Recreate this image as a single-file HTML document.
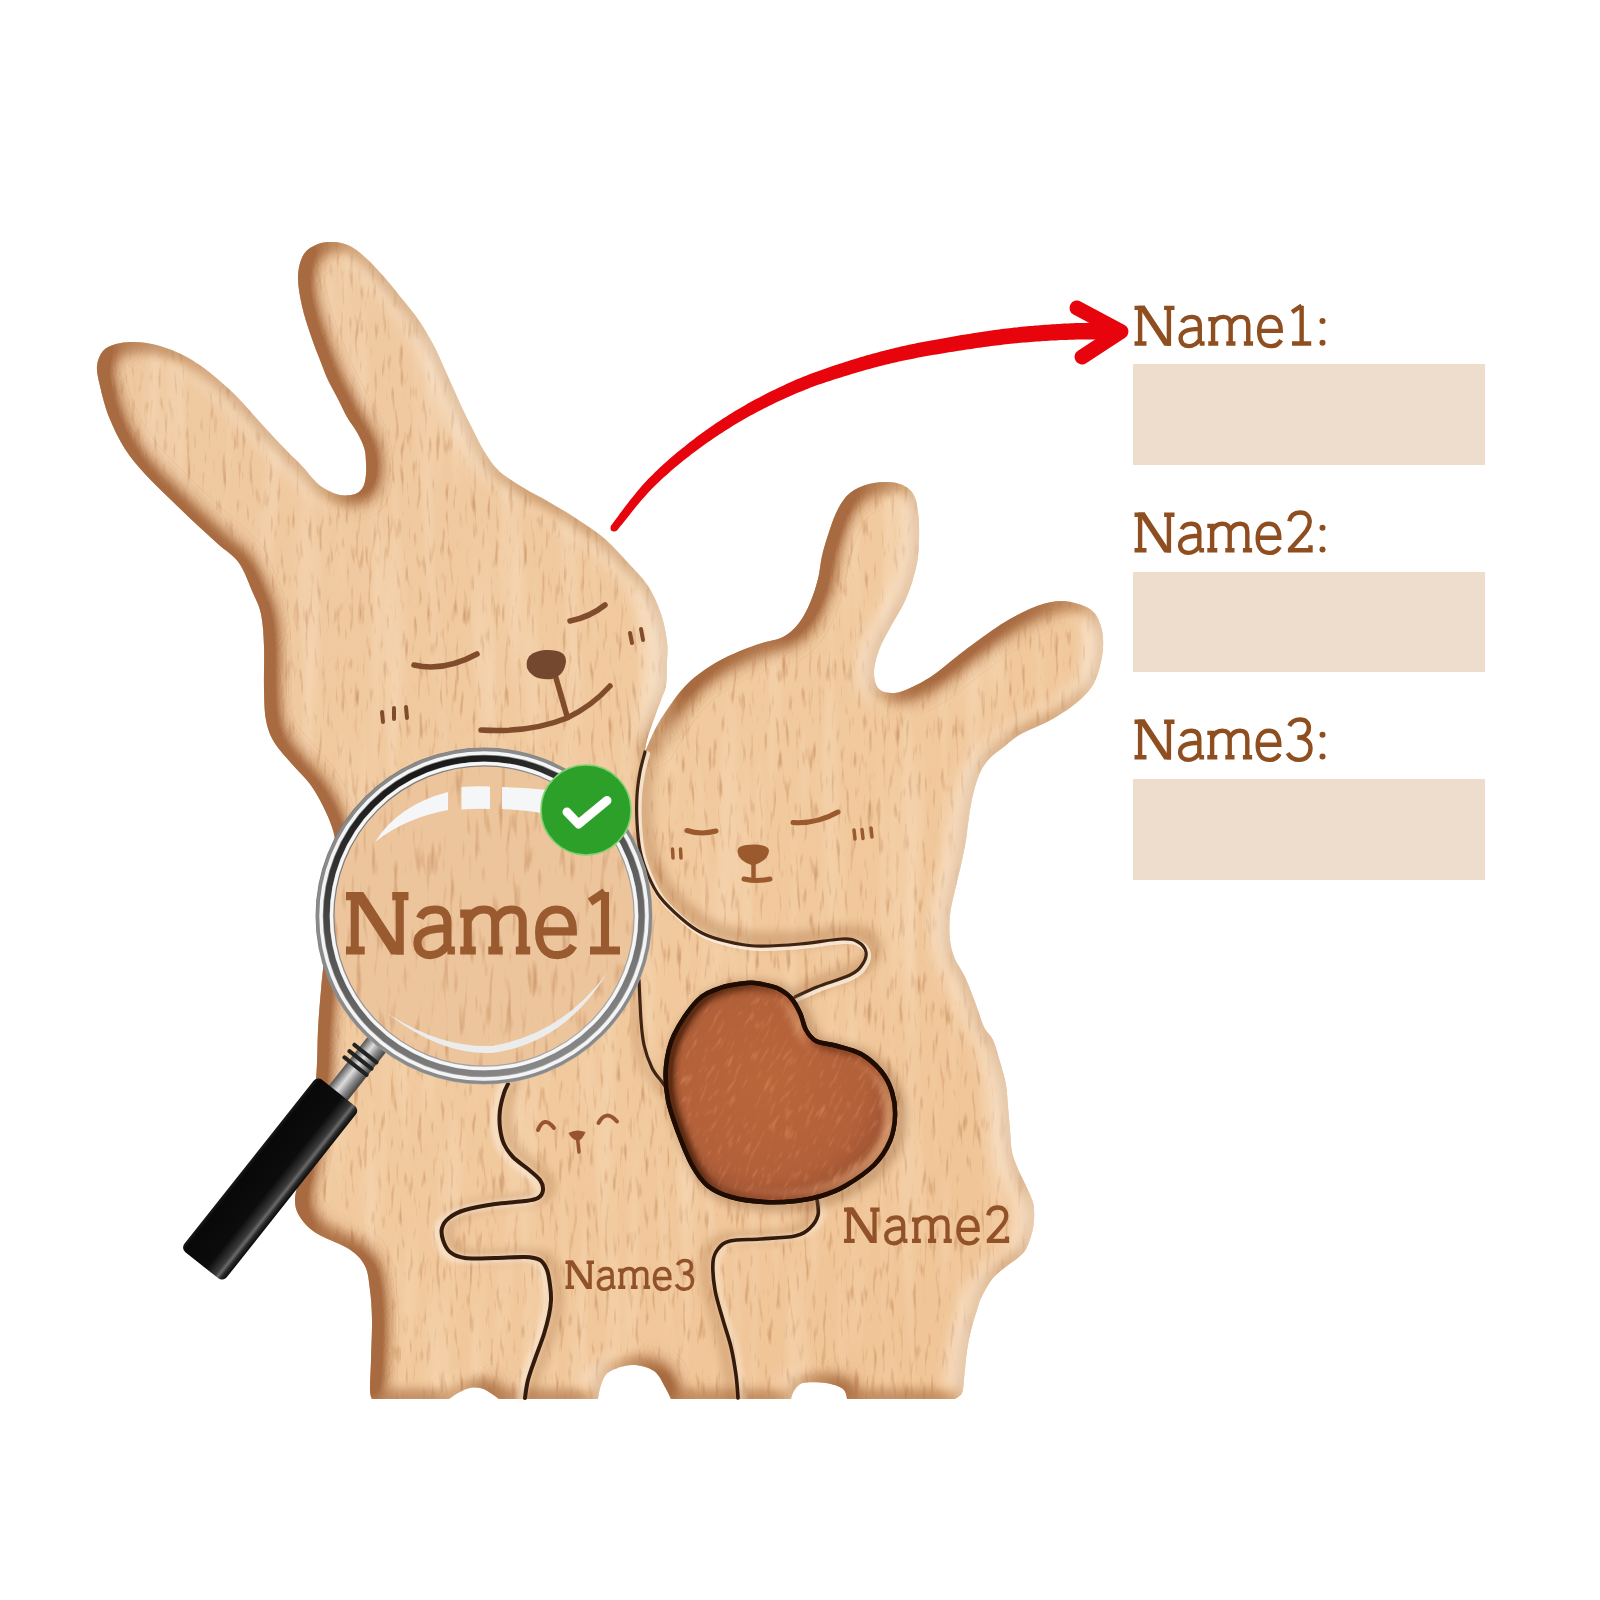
<!DOCTYPE html>
<html><head><meta charset="utf-8"><style>html,body{margin:0;padding:0;background:#fff;overflow:hidden;font-family:"Liberation Sans",sans-serif}svg{display:block}</style></head>
<body>
<svg width="1600" height="1600" viewBox="0 0 1600 1600">
<defs>
  <clipPath id="clipOuter"><path d="M97 366C97.5 360.2 99.8 354.7 103 351C106.2 347.3 110.7 345.5 116 344C121.3 342.5 127.7 341.7 135 342C142.3 342.3 150.5 343 160 346C169.5 349 180.3 352.7 192 360C203.7 367.3 217.5 378.3 230 390C242.5 401.7 257.5 419.8 267 430C276.5 440.2 281.2 445 287 451C292.8 457 297 460.7 302 466C307 471.3 312.5 478.8 317 483C321.5 487.2 325.2 489 329 491C332.8 493 336.3 494.3 340 495C343.7 495.7 347.8 495.5 351 495C354.2 494.5 356.8 493.7 359 492C361.2 490.3 362.8 488 364 485C365.2 482 365.7 477.7 366 474C366.3 470.3 366.2 466.8 366 463C365.8 459.2 365.8 454.8 365 451C364.2 447.2 362.7 443.7 361 440C359.3 436.3 357.3 432.8 355 429C352.7 425.2 349.8 422 347 417C344.2 412 341.2 405.2 338 399C334.8 392.8 331 386.5 328 380C325 373.5 322.8 367.3 320 360C317.2 352.7 314 345 311 336C308 327 304.2 316 302 306C299.8 296 297.7 284.7 298 276C298.3 267.3 300.7 259.3 304 254C307.3 248.7 313.2 246 318 244C322.8 242 327.7 241.7 333 242C338.3 242.3 344.3 243.2 350 246C355.7 248.8 361.2 253.7 367 259C372.8 264.3 379 271.2 385 278C391 284.8 398 293.8 403 300C408 306.2 411.3 310 415 315C418.7 320 421.5 324.2 425 330C428.5 335.8 432.7 343.3 436 350C439.3 356.7 442 363.3 445 370C448 376.7 451 383.3 454 390C457 396.7 459.8 403.3 463 410C466.2 416.7 469.5 423.2 473 430C476.5 436.8 479.7 444.2 484 451C488.3 457.8 492.3 464.8 499 471C505.7 477.2 515.7 482.8 524 488C532.3 493.2 540.2 496.8 549 502C557.8 507.2 567.7 512.8 577 519C586.3 525.2 596.3 531.5 605 539C613.7 546.5 621.8 556.2 629 564C636.2 571.8 642.7 577.7 648 586C653.3 594.3 657.8 604.7 661 614C664.2 623.3 666 634 667 642C668 650 667.2 654.8 667 662C666.8 669.2 667 678.7 666 685C665 691.3 663 694.3 661 700C659 705.7 656.3 712.3 654 719C651.7 725.7 648.5 734.5 647 740C645.5 745.5 645 752 645 752C645 752 648.7 743 651 738C653.3 733 656 727.2 659 722C662 716.8 665.5 712 669 707C672.5 702 675.7 697 680 692C684.3 687 688.8 682 695 677C701.2 672 709.5 666.3 717 662C724.5 657.7 732.5 654.2 740 651C747.5 647.8 754.8 645.3 762 643C769.2 640.7 776.8 640.3 783 637C789.2 633.7 794.5 628.7 799 623C803.5 617.3 806.8 610.3 810 603C813.2 595.7 816 586.8 818 579C820 571.2 820.2 563.8 822 556C823.8 548.2 826.3 539.8 829 532C831.7 524.2 834.5 515.5 838 509C841.5 502.5 844.8 497.2 850 493C855.2 488.8 862.7 485.8 869 484C875.3 482.2 882.8 482 888 482C893.2 482 896.3 482.7 900 484C903.7 485.3 907.3 487.2 910 490C912.7 492.8 914.5 495.2 916 501C917.5 506.8 918.7 515.8 919 525C919.3 534.2 919 547 918 556C917 565 915.3 571.2 913 579C910.7 586.8 907.7 595.2 904 603C900.3 610.8 895.2 618.2 891 626C886.8 633.8 881.8 642.2 879 650C876.2 657.8 874 666.5 874 673C874 679.5 875.8 685.7 879 689C882.2 692.3 888.2 693 893 693C897.8 693 901.5 691.8 908 689C914.5 686.2 924.2 681.2 932 676C939.8 670.8 948.3 663.2 955 658C961.7 652.8 963.7 651 972 645C980.3 639 994.2 628.5 1005 622C1015.8 615.5 1027.5 609.5 1037 606C1046.5 602.5 1054.2 601 1062 601C1069.8 601 1078.3 603.7 1084 606C1089.7 608.3 1093 610.8 1096 615C1099 619.2 1100.8 625.5 1102 631C1103.2 636.5 1103.3 642.2 1103 648C1102.7 653.8 1101.5 660.2 1100 666C1098.5 671.8 1096.7 678 1094 683C1091.3 688 1088.5 691.5 1084 696C1079.5 700.5 1073.5 705.5 1067 710C1060.5 714.5 1052.7 719 1045 723C1037.3 727 1027.7 730.2 1021 734C1014.3 737.8 1010.3 741.8 1005 746C999.7 750.2 993.3 754.2 989 759C984.7 763.8 981.8 768.3 979 775C976.2 781.7 973.8 790.8 972 799C970.2 807.2 969 817.2 968 824C967 830.8 967.2 833.2 966 840C964.8 846.8 962.8 856.7 961 865C959.2 873.3 956.8 881.7 955 890C953.2 898.3 950.8 906.7 950 915C949.2 923.3 949.2 932.7 950 940C950.8 947.3 952.5 952.8 955 959C957.5 965.2 961.7 969.8 965 977C968.3 984.2 971.8 993.7 975 1002C978.2 1010.3 981 1020.7 984 1027C987 1033.3 990.3 1034.2 993 1040C995.7 1045.8 997.8 1054.5 1000 1062C1002.2 1069.5 1004.7 1077.5 1006 1085C1007.3 1092.5 1007.3 1099.5 1008 1107C1008.7 1114.5 1009.3 1122.5 1010 1130C1010.7 1137.5 1010.7 1145.5 1012 1152C1013.3 1158.5 1015.7 1163.3 1018 1169C1020.3 1174.7 1023.5 1180.3 1026 1186C1028.5 1191.7 1031.7 1197.3 1033 1203C1034.3 1208.7 1034.3 1214.5 1034 1220C1033.7 1225.5 1032.7 1230.7 1031 1236C1029.3 1241.3 1028 1247 1024 1252C1020 1257 1012.2 1261.7 1007 1266C1001.8 1270.3 997.2 1273 993 1278C988.8 1283 984.7 1290.7 982 1296C979.3 1301.3 978.8 1304.3 977 1310C975.2 1315.7 972.7 1323.2 971 1330C969.3 1336.8 968.2 1342.8 967 1351C965.8 1359.2 964.8 1372 964 1379C963.2 1386 963.5 1389.7 962 1393C960.5 1396.3 955 1399 955 1399C955 1399 847 1399 847 1399C847 1399 846.5 1391.7 843 1389C839.5 1386.3 832.7 1384 826 1383C819.3 1382 808.3 1381.7 803 1383C797.7 1384.3 796 1388.3 794 1391C792 1393.7 791 1399 791 1399C791 1399 671 1399 671 1399C671 1399 667.8 1391.7 665 1387C662.2 1382.3 659.5 1374.7 654 1371C648.5 1367.3 639.5 1364.8 632 1365C624.5 1365.2 614.2 1368.7 609 1372C603.8 1375.3 602.8 1380.5 601 1385C599.2 1389.5 598 1399 598 1399C598 1399 499 1399 499 1399C499 1399 494.8 1395.8 492 1394C489.2 1392.2 485.7 1389.5 482 1388.5C478.3 1387.5 473.8 1387.3 470 1388C466.2 1388.7 462.5 1390.7 459 1392.5C455.5 1394.3 449 1399 449 1399C449 1399 372 1399 372 1399C372 1399 370.2 1396.5 370 1390C369.8 1383.5 370.7 1371.7 371 1360C371.3 1348.3 372.2 1331.7 372 1320C371.8 1308.3 371.2 1299 370 1290C368.8 1281 368.5 1272.8 365 1266C361.5 1259.2 357.2 1254.5 349 1249C340.8 1243.5 324.2 1238.3 316 1233C307.8 1227.7 303.5 1222.5 300 1217C296.5 1211.5 295 1207 295 1200C295 1193 297.8 1186 300 1175C302.2 1164 305.3 1150 308 1134C310.7 1118 314.3 1096.3 316 1079C317.7 1061.7 317.2 1044.8 318 1030C318.8 1015.2 319.8 1003.3 321 990C322.2 976.7 323.5 965 325 950C326.5 935 328 914.7 330 900C332 885.3 336 871.2 337 862C338 852.8 336.8 850.8 336 845C335.2 839.2 334.2 833.5 332 827C329.8 820.5 326.7 813.2 323 806C319.3 798.8 315.3 791.2 310 784C304.7 776.8 297 770 291 763C285 756 278.2 749.2 274 742C269.8 734.8 267.7 728.8 266 720C264.3 711.2 264.3 701.3 264 689C263.7 676.7 264.5 658.5 264 646C263.5 633.5 262.8 622.8 261 614C259.2 605.2 256.7 601.5 253 593C249.3 584.5 244.8 571.2 239 563C233.2 554.8 225.5 550.8 218 544C210.5 537.2 202.2 529.7 194 522C185.8 514.3 177.2 506 169 498C160.8 490 152.3 482.2 145 474C137.7 465.8 131 458.5 125 449C119 439.5 113.2 427.5 109 417C104.8 406.5 102 394.5 100 386C98 377.5 96.5 371.8 97 366Z"/></clipPath>
  <clipPath id="clipLens"><circle cx="484" cy="916" r="160"/></clipPath>
  <linearGradient id="woodG" x1="0" y1="0" x2="1" y2="1">
    <stop offset="0" stop-color="#EEC8A0"/>
    <stop offset="0.5" stop-color="#F1CA9F"/>
    <stop offset="1" stop-color="#F0C496"/>
  </linearGradient>
  <radialGradient id="heartG" cx="0.45" cy="0.45" r="0.6">
    <stop offset="0" stop-color="#BA663C"/>
    <stop offset="0.7" stop-color="#B2603A"/>
    <stop offset="1" stop-color="#985032"/>
  </radialGradient>
  <linearGradient id="handleG" x1="0" y1="0" x2="1" y2="0">
    <stop offset="0" stop-color="#1a1a1a"/>
    <stop offset="0.08" stop-color="#080808"/>
    <stop offset="0.6" stop-color="#0c0c0c"/>
    <stop offset="0.8" stop-color="#3a3a3a"/>
    <stop offset="0.86" stop-color="#6a6a6a"/>
    <stop offset="0.92" stop-color="#2a2a2a"/>
    <stop offset="1" stop-color="#0a0a0a"/>
  </linearGradient>
  <linearGradient id="neckG" x1="0" y1="0" x2="1" y2="0">
    <stop offset="0" stop-color="#555"/>
    <stop offset="0.4" stop-color="#ddd"/>
    <stop offset="0.7" stop-color="#888"/>
    <stop offset="1" stop-color="#444"/>
  </linearGradient>
  <linearGradient id="ringG" x1="0" y1="0" x2="1" y2="1">
    <stop offset="0" stop-color="#6a6a6a"/>
    <stop offset="0.5" stop-color="#9a9a9a"/>
    <stop offset="1" stop-color="#b0b0b0"/>
  </linearGradient>
  <linearGradient id="ringD" x1="0.3" y1="0" x2="0.7" y2="1">
    <stop offset="0" stop-color="#151515"/>
    <stop offset="0.45" stop-color="#555"/>
    <stop offset="1" stop-color="#8a8a8a"/>
  </linearGradient>
  <filter id="bevel" x="0" y="0" width="1600" height="1600" filterUnits="userSpaceOnUse" color-interpolation-filters="sRGB">
    <feGaussianBlur in="SourceAlpha" stdDeviation="11" result="b"/>
    <feDiffuseLighting in="b" surfaceScale="16" diffuseConstant="1" lighting-color="#fff" result="l">
      <feDistantLight azimuth="5" elevation="45"/>
    </feDiffuseLighting>
    <feColorMatrix in="l" type="matrix" values="0 0 0 0 0  0 0 0 0 0  0 0 0 0 0  -1.8 0 0 0 1.27" result="sa"/>
    <feFlood flood-color="#A86A40" result="sc"/>
    <feComposite in="sc" in2="sa" operator="in" result="sh"/>
    <feColorMatrix in="l" type="matrix" values="0 0 0 0 0  0 0 0 0 0  0 0 0 0 0  1.5 0 0 0 -1.06" result="ha"/>
    <feFlood flood-color="#FFF6EA" result="hc"/>
    <feComposite in="hc" in2="ha" operator="in" result="hl"/>
    <feMerge><feMergeNode in="sh"/><feMergeNode in="hl"/></feMerge>
    <feComposite in2="SourceAlpha" operator="in"/>
  </filter>
  <filter id="grain" x="0" y="0" width="1600" height="1600" filterUnits="userSpaceOnUse" color-interpolation-filters="sRGB">
    <feTurbulence type="fractalNoise" baseFrequency="0.22 0.035" numOctaves="2" seed="7" result="n"/>
    <feColorMatrix in="n" type="matrix" values="0 0 0 0 0.72  0 0 0 0 0.47  0 0 0 0 0.28  3.2 0 0 0 -1.85" result="g"/>
    <feComposite in="g" in2="SourceAlpha" operator="in"/>
  </filter>
  <filter id="grain2" x="0" y="0" width="1600" height="1600" filterUnits="userSpaceOnUse" color-interpolation-filters="sRGB">
    <feTurbulence type="fractalNoise" baseFrequency="0.05 0.004" numOctaves="2" seed="11" result="n"/>
    <feColorMatrix in="n" type="matrix" values="0 0 0 0 1  0 0 0 0 0.93  0 0 0 0 0.84  1.6 0 0 0 -0.75" result="g"/>
    <feComposite in="g" in2="SourceAlpha" operator="in"/>
  </filter>
  <filter id="bevelH" x="0" y="0" width="1600" height="1600" filterUnits="userSpaceOnUse" color-interpolation-filters="sRGB">
    <feGaussianBlur in="SourceAlpha" stdDeviation="6" result="b"/>
    <feDiffuseLighting in="b" surfaceScale="10" diffuseConstant="1" lighting-color="#fff" result="l">
      <feDistantLight azimuth="20" elevation="45"/>
    </feDiffuseLighting>
    <feColorMatrix in="l" type="matrix" values="0 0 0 0 0  0 0 0 0 0  0 0 0 0 0  -1.6 0 0 0 1.13" result="sa"/>
    <feFlood flood-color="#5E2C12" result="sc"/>
    <feComposite in="sc" in2="sa" operator="in" result="sh"/>
    <feColorMatrix in="l" type="matrix" values="0 0 0 0 0  0 0 0 0 0  0 0 0 0 0  2.2 0 0 0 -1.55" result="ha"/>
    <feFlood flood-color="#E8B080" result="hc"/>
    <feComposite in="hc" in2="ha" operator="in" result="hl"/>
    <feMerge><feMergeNode in="sh"/><feMergeNode in="hl"/></feMerge>
    <feComposite in2="SourceAlpha" operator="in"/>
  </filter>
  <filter id="grainH" x="0" y="0" width="1600" height="1600" filterUnits="userSpaceOnUse" color-interpolation-filters="sRGB">
    <feTurbulence type="fractalNoise" baseFrequency="0.25 0.06" numOctaves="2" seed="3" result="n"/>
    <feColorMatrix in="n" type="matrix" values="0 0 0 0 0.85  0 0 0 0 0.55  0 0 0 0 0.38  3 0 0 0 -1.7" result="g"/>
    <feComposite in="g" in2="SourceAlpha" operator="in"/>
  </filter>
  <filter id="grainL" x="0" y="0" width="1600" height="1600" filterUnits="userSpaceOnUse" color-interpolation-filters="sRGB">
    <feTurbulence type="fractalNoise" baseFrequency="0.16 0.025" numOctaves="2" seed="5" result="n"/>
    <feColorMatrix in="n" type="matrix" values="0 0 0 0 0.72  0 0 0 0 0.47  0 0 0 0 0.28  3.2 0 0 0 -1.85" result="g"/>
    <feComposite in="g" in2="SourceAlpha" operator="in"/>
  </filter>
  <filter id="blur4" x="-10%" y="-10%" width="120%" height="120%"><feGaussianBlur stdDeviation="4"/></filter>
  <filter id="blur2" x="-10%" y="-10%" width="120%" height="120%"><feGaussianBlur stdDeviation="2"/></filter>
  <filter id="blur1"><feGaussianBlur stdDeviation="0.8"/></filter>
</defs>
<rect width="1600" height="1600" fill="#fff"/>

<!-- wood silhouette -->
<path d="M97 366C97.5 360.2 99.8 354.7 103 351C106.2 347.3 110.7 345.5 116 344C121.3 342.5 127.7 341.7 135 342C142.3 342.3 150.5 343 160 346C169.5 349 180.3 352.7 192 360C203.7 367.3 217.5 378.3 230 390C242.5 401.7 257.5 419.8 267 430C276.5 440.2 281.2 445 287 451C292.8 457 297 460.7 302 466C307 471.3 312.5 478.8 317 483C321.5 487.2 325.2 489 329 491C332.8 493 336.3 494.3 340 495C343.7 495.7 347.8 495.5 351 495C354.2 494.5 356.8 493.7 359 492C361.2 490.3 362.8 488 364 485C365.2 482 365.7 477.7 366 474C366.3 470.3 366.2 466.8 366 463C365.8 459.2 365.8 454.8 365 451C364.2 447.2 362.7 443.7 361 440C359.3 436.3 357.3 432.8 355 429C352.7 425.2 349.8 422 347 417C344.2 412 341.2 405.2 338 399C334.8 392.8 331 386.5 328 380C325 373.5 322.8 367.3 320 360C317.2 352.7 314 345 311 336C308 327 304.2 316 302 306C299.8 296 297.7 284.7 298 276C298.3 267.3 300.7 259.3 304 254C307.3 248.7 313.2 246 318 244C322.8 242 327.7 241.7 333 242C338.3 242.3 344.3 243.2 350 246C355.7 248.8 361.2 253.7 367 259C372.8 264.3 379 271.2 385 278C391 284.8 398 293.8 403 300C408 306.2 411.3 310 415 315C418.7 320 421.5 324.2 425 330C428.5 335.8 432.7 343.3 436 350C439.3 356.7 442 363.3 445 370C448 376.7 451 383.3 454 390C457 396.7 459.8 403.3 463 410C466.2 416.7 469.5 423.2 473 430C476.5 436.8 479.7 444.2 484 451C488.3 457.8 492.3 464.8 499 471C505.7 477.2 515.7 482.8 524 488C532.3 493.2 540.2 496.8 549 502C557.8 507.2 567.7 512.8 577 519C586.3 525.2 596.3 531.5 605 539C613.7 546.5 621.8 556.2 629 564C636.2 571.8 642.7 577.7 648 586C653.3 594.3 657.8 604.7 661 614C664.2 623.3 666 634 667 642C668 650 667.2 654.8 667 662C666.8 669.2 667 678.7 666 685C665 691.3 663 694.3 661 700C659 705.7 656.3 712.3 654 719C651.7 725.7 648.5 734.5 647 740C645.5 745.5 645 752 645 752C645 752 648.7 743 651 738C653.3 733 656 727.2 659 722C662 716.8 665.5 712 669 707C672.5 702 675.7 697 680 692C684.3 687 688.8 682 695 677C701.2 672 709.5 666.3 717 662C724.5 657.7 732.5 654.2 740 651C747.5 647.8 754.8 645.3 762 643C769.2 640.7 776.8 640.3 783 637C789.2 633.7 794.5 628.7 799 623C803.5 617.3 806.8 610.3 810 603C813.2 595.7 816 586.8 818 579C820 571.2 820.2 563.8 822 556C823.8 548.2 826.3 539.8 829 532C831.7 524.2 834.5 515.5 838 509C841.5 502.5 844.8 497.2 850 493C855.2 488.8 862.7 485.8 869 484C875.3 482.2 882.8 482 888 482C893.2 482 896.3 482.7 900 484C903.7 485.3 907.3 487.2 910 490C912.7 492.8 914.5 495.2 916 501C917.5 506.8 918.7 515.8 919 525C919.3 534.2 919 547 918 556C917 565 915.3 571.2 913 579C910.7 586.8 907.7 595.2 904 603C900.3 610.8 895.2 618.2 891 626C886.8 633.8 881.8 642.2 879 650C876.2 657.8 874 666.5 874 673C874 679.5 875.8 685.7 879 689C882.2 692.3 888.2 693 893 693C897.8 693 901.5 691.8 908 689C914.5 686.2 924.2 681.2 932 676C939.8 670.8 948.3 663.2 955 658C961.7 652.8 963.7 651 972 645C980.3 639 994.2 628.5 1005 622C1015.8 615.5 1027.5 609.5 1037 606C1046.5 602.5 1054.2 601 1062 601C1069.8 601 1078.3 603.7 1084 606C1089.7 608.3 1093 610.8 1096 615C1099 619.2 1100.8 625.5 1102 631C1103.2 636.5 1103.3 642.2 1103 648C1102.7 653.8 1101.5 660.2 1100 666C1098.5 671.8 1096.7 678 1094 683C1091.3 688 1088.5 691.5 1084 696C1079.5 700.5 1073.5 705.5 1067 710C1060.5 714.5 1052.7 719 1045 723C1037.3 727 1027.7 730.2 1021 734C1014.3 737.8 1010.3 741.8 1005 746C999.7 750.2 993.3 754.2 989 759C984.7 763.8 981.8 768.3 979 775C976.2 781.7 973.8 790.8 972 799C970.2 807.2 969 817.2 968 824C967 830.8 967.2 833.2 966 840C964.8 846.8 962.8 856.7 961 865C959.2 873.3 956.8 881.7 955 890C953.2 898.3 950.8 906.7 950 915C949.2 923.3 949.2 932.7 950 940C950.8 947.3 952.5 952.8 955 959C957.5 965.2 961.7 969.8 965 977C968.3 984.2 971.8 993.7 975 1002C978.2 1010.3 981 1020.7 984 1027C987 1033.3 990.3 1034.2 993 1040C995.7 1045.8 997.8 1054.5 1000 1062C1002.2 1069.5 1004.7 1077.5 1006 1085C1007.3 1092.5 1007.3 1099.5 1008 1107C1008.7 1114.5 1009.3 1122.5 1010 1130C1010.7 1137.5 1010.7 1145.5 1012 1152C1013.3 1158.5 1015.7 1163.3 1018 1169C1020.3 1174.7 1023.5 1180.3 1026 1186C1028.5 1191.7 1031.7 1197.3 1033 1203C1034.3 1208.7 1034.3 1214.5 1034 1220C1033.7 1225.5 1032.7 1230.7 1031 1236C1029.3 1241.3 1028 1247 1024 1252C1020 1257 1012.2 1261.7 1007 1266C1001.8 1270.3 997.2 1273 993 1278C988.8 1283 984.7 1290.7 982 1296C979.3 1301.3 978.8 1304.3 977 1310C975.2 1315.7 972.7 1323.2 971 1330C969.3 1336.8 968.2 1342.8 967 1351C965.8 1359.2 964.8 1372 964 1379C963.2 1386 963.5 1389.7 962 1393C960.5 1396.3 955 1399 955 1399C955 1399 847 1399 847 1399C847 1399 846.5 1391.7 843 1389C839.5 1386.3 832.7 1384 826 1383C819.3 1382 808.3 1381.7 803 1383C797.7 1384.3 796 1388.3 794 1391C792 1393.7 791 1399 791 1399C791 1399 671 1399 671 1399C671 1399 667.8 1391.7 665 1387C662.2 1382.3 659.5 1374.7 654 1371C648.5 1367.3 639.5 1364.8 632 1365C624.5 1365.2 614.2 1368.7 609 1372C603.8 1375.3 602.8 1380.5 601 1385C599.2 1389.5 598 1399 598 1399C598 1399 499 1399 499 1399C499 1399 494.8 1395.8 492 1394C489.2 1392.2 485.7 1389.5 482 1388.5C478.3 1387.5 473.8 1387.3 470 1388C466.2 1388.7 462.5 1390.7 459 1392.5C455.5 1394.3 449 1399 449 1399C449 1399 372 1399 372 1399C372 1399 370.2 1396.5 370 1390C369.8 1383.5 370.7 1371.7 371 1360C371.3 1348.3 372.2 1331.7 372 1320C371.8 1308.3 371.2 1299 370 1290C368.8 1281 368.5 1272.8 365 1266C361.5 1259.2 357.2 1254.5 349 1249C340.8 1243.5 324.2 1238.3 316 1233C307.8 1227.7 303.5 1222.5 300 1217C296.5 1211.5 295 1207 295 1200C295 1193 297.8 1186 300 1175C302.2 1164 305.3 1150 308 1134C310.7 1118 314.3 1096.3 316 1079C317.7 1061.7 317.2 1044.8 318 1030C318.8 1015.2 319.8 1003.3 321 990C322.2 976.7 323.5 965 325 950C326.5 935 328 914.7 330 900C332 885.3 336 871.2 337 862C338 852.8 336.8 850.8 336 845C335.2 839.2 334.2 833.5 332 827C329.8 820.5 326.7 813.2 323 806C319.3 798.8 315.3 791.2 310 784C304.7 776.8 297 770 291 763C285 756 278.2 749.2 274 742C269.8 734.8 267.7 728.8 266 720C264.3 711.2 264.3 701.3 264 689C263.7 676.7 264.5 658.5 264 646C263.5 633.5 262.8 622.8 261 614C259.2 605.2 256.7 601.5 253 593C249.3 584.5 244.8 571.2 239 563C233.2 554.8 225.5 550.8 218 544C210.5 537.2 202.2 529.7 194 522C185.8 514.3 177.2 506 169 498C160.8 490 152.3 482.2 145 474C137.7 465.8 131 458.5 125 449C119 439.5 113.2 427.5 109 417C104.8 406.5 102 394.5 100 386C98 377.5 96.5 371.8 97 366Z" fill="url(#woodG)"/>
<!-- wood grain -->
<path d="M97 366C97.5 360.2 99.8 354.7 103 351C106.2 347.3 110.7 345.5 116 344C121.3 342.5 127.7 341.7 135 342C142.3 342.3 150.5 343 160 346C169.5 349 180.3 352.7 192 360C203.7 367.3 217.5 378.3 230 390C242.5 401.7 257.5 419.8 267 430C276.5 440.2 281.2 445 287 451C292.8 457 297 460.7 302 466C307 471.3 312.5 478.8 317 483C321.5 487.2 325.2 489 329 491C332.8 493 336.3 494.3 340 495C343.7 495.7 347.8 495.5 351 495C354.2 494.5 356.8 493.7 359 492C361.2 490.3 362.8 488 364 485C365.2 482 365.7 477.7 366 474C366.3 470.3 366.2 466.8 366 463C365.8 459.2 365.8 454.8 365 451C364.2 447.2 362.7 443.7 361 440C359.3 436.3 357.3 432.8 355 429C352.7 425.2 349.8 422 347 417C344.2 412 341.2 405.2 338 399C334.8 392.8 331 386.5 328 380C325 373.5 322.8 367.3 320 360C317.2 352.7 314 345 311 336C308 327 304.2 316 302 306C299.8 296 297.7 284.7 298 276C298.3 267.3 300.7 259.3 304 254C307.3 248.7 313.2 246 318 244C322.8 242 327.7 241.7 333 242C338.3 242.3 344.3 243.2 350 246C355.7 248.8 361.2 253.7 367 259C372.8 264.3 379 271.2 385 278C391 284.8 398 293.8 403 300C408 306.2 411.3 310 415 315C418.7 320 421.5 324.2 425 330C428.5 335.8 432.7 343.3 436 350C439.3 356.7 442 363.3 445 370C448 376.7 451 383.3 454 390C457 396.7 459.8 403.3 463 410C466.2 416.7 469.5 423.2 473 430C476.5 436.8 479.7 444.2 484 451C488.3 457.8 492.3 464.8 499 471C505.7 477.2 515.7 482.8 524 488C532.3 493.2 540.2 496.8 549 502C557.8 507.2 567.7 512.8 577 519C586.3 525.2 596.3 531.5 605 539C613.7 546.5 621.8 556.2 629 564C636.2 571.8 642.7 577.7 648 586C653.3 594.3 657.8 604.7 661 614C664.2 623.3 666 634 667 642C668 650 667.2 654.8 667 662C666.8 669.2 667 678.7 666 685C665 691.3 663 694.3 661 700C659 705.7 656.3 712.3 654 719C651.7 725.7 648.5 734.5 647 740C645.5 745.5 645 752 645 752C645 752 648.7 743 651 738C653.3 733 656 727.2 659 722C662 716.8 665.5 712 669 707C672.5 702 675.7 697 680 692C684.3 687 688.8 682 695 677C701.2 672 709.5 666.3 717 662C724.5 657.7 732.5 654.2 740 651C747.5 647.8 754.8 645.3 762 643C769.2 640.7 776.8 640.3 783 637C789.2 633.7 794.5 628.7 799 623C803.5 617.3 806.8 610.3 810 603C813.2 595.7 816 586.8 818 579C820 571.2 820.2 563.8 822 556C823.8 548.2 826.3 539.8 829 532C831.7 524.2 834.5 515.5 838 509C841.5 502.5 844.8 497.2 850 493C855.2 488.8 862.7 485.8 869 484C875.3 482.2 882.8 482 888 482C893.2 482 896.3 482.7 900 484C903.7 485.3 907.3 487.2 910 490C912.7 492.8 914.5 495.2 916 501C917.5 506.8 918.7 515.8 919 525C919.3 534.2 919 547 918 556C917 565 915.3 571.2 913 579C910.7 586.8 907.7 595.2 904 603C900.3 610.8 895.2 618.2 891 626C886.8 633.8 881.8 642.2 879 650C876.2 657.8 874 666.5 874 673C874 679.5 875.8 685.7 879 689C882.2 692.3 888.2 693 893 693C897.8 693 901.5 691.8 908 689C914.5 686.2 924.2 681.2 932 676C939.8 670.8 948.3 663.2 955 658C961.7 652.8 963.7 651 972 645C980.3 639 994.2 628.5 1005 622C1015.8 615.5 1027.5 609.5 1037 606C1046.5 602.5 1054.2 601 1062 601C1069.8 601 1078.3 603.7 1084 606C1089.7 608.3 1093 610.8 1096 615C1099 619.2 1100.8 625.5 1102 631C1103.2 636.5 1103.3 642.2 1103 648C1102.7 653.8 1101.5 660.2 1100 666C1098.5 671.8 1096.7 678 1094 683C1091.3 688 1088.5 691.5 1084 696C1079.5 700.5 1073.5 705.5 1067 710C1060.5 714.5 1052.7 719 1045 723C1037.3 727 1027.7 730.2 1021 734C1014.3 737.8 1010.3 741.8 1005 746C999.7 750.2 993.3 754.2 989 759C984.7 763.8 981.8 768.3 979 775C976.2 781.7 973.8 790.8 972 799C970.2 807.2 969 817.2 968 824C967 830.8 967.2 833.2 966 840C964.8 846.8 962.8 856.7 961 865C959.2 873.3 956.8 881.7 955 890C953.2 898.3 950.8 906.7 950 915C949.2 923.3 949.2 932.7 950 940C950.8 947.3 952.5 952.8 955 959C957.5 965.2 961.7 969.8 965 977C968.3 984.2 971.8 993.7 975 1002C978.2 1010.3 981 1020.7 984 1027C987 1033.3 990.3 1034.2 993 1040C995.7 1045.8 997.8 1054.5 1000 1062C1002.2 1069.5 1004.7 1077.5 1006 1085C1007.3 1092.5 1007.3 1099.5 1008 1107C1008.7 1114.5 1009.3 1122.5 1010 1130C1010.7 1137.5 1010.7 1145.5 1012 1152C1013.3 1158.5 1015.7 1163.3 1018 1169C1020.3 1174.7 1023.5 1180.3 1026 1186C1028.5 1191.7 1031.7 1197.3 1033 1203C1034.3 1208.7 1034.3 1214.5 1034 1220C1033.7 1225.5 1032.7 1230.7 1031 1236C1029.3 1241.3 1028 1247 1024 1252C1020 1257 1012.2 1261.7 1007 1266C1001.8 1270.3 997.2 1273 993 1278C988.8 1283 984.7 1290.7 982 1296C979.3 1301.3 978.8 1304.3 977 1310C975.2 1315.7 972.7 1323.2 971 1330C969.3 1336.8 968.2 1342.8 967 1351C965.8 1359.2 964.8 1372 964 1379C963.2 1386 963.5 1389.7 962 1393C960.5 1396.3 955 1399 955 1399C955 1399 847 1399 847 1399C847 1399 846.5 1391.7 843 1389C839.5 1386.3 832.7 1384 826 1383C819.3 1382 808.3 1381.7 803 1383C797.7 1384.3 796 1388.3 794 1391C792 1393.7 791 1399 791 1399C791 1399 671 1399 671 1399C671 1399 667.8 1391.7 665 1387C662.2 1382.3 659.5 1374.7 654 1371C648.5 1367.3 639.5 1364.8 632 1365C624.5 1365.2 614.2 1368.7 609 1372C603.8 1375.3 602.8 1380.5 601 1385C599.2 1389.5 598 1399 598 1399C598 1399 499 1399 499 1399C499 1399 494.8 1395.8 492 1394C489.2 1392.2 485.7 1389.5 482 1388.5C478.3 1387.5 473.8 1387.3 470 1388C466.2 1388.7 462.5 1390.7 459 1392.5C455.5 1394.3 449 1399 449 1399C449 1399 372 1399 372 1399C372 1399 370.2 1396.5 370 1390C369.8 1383.5 370.7 1371.7 371 1360C371.3 1348.3 372.2 1331.7 372 1320C371.8 1308.3 371.2 1299 370 1290C368.8 1281 368.5 1272.8 365 1266C361.5 1259.2 357.2 1254.5 349 1249C340.8 1243.5 324.2 1238.3 316 1233C307.8 1227.7 303.5 1222.5 300 1217C296.5 1211.5 295 1207 295 1200C295 1193 297.8 1186 300 1175C302.2 1164 305.3 1150 308 1134C310.7 1118 314.3 1096.3 316 1079C317.7 1061.7 317.2 1044.8 318 1030C318.8 1015.2 319.8 1003.3 321 990C322.2 976.7 323.5 965 325 950C326.5 935 328 914.7 330 900C332 885.3 336 871.2 337 862C338 852.8 336.8 850.8 336 845C335.2 839.2 334.2 833.5 332 827C329.8 820.5 326.7 813.2 323 806C319.3 798.8 315.3 791.2 310 784C304.7 776.8 297 770 291 763C285 756 278.2 749.2 274 742C269.8 734.8 267.7 728.8 266 720C264.3 711.2 264.3 701.3 264 689C263.7 676.7 264.5 658.5 264 646C263.5 633.5 262.8 622.8 261 614C259.2 605.2 256.7 601.5 253 593C249.3 584.5 244.8 571.2 239 563C233.2 554.8 225.5 550.8 218 544C210.5 537.2 202.2 529.7 194 522C185.8 514.3 177.2 506 169 498C160.8 490 152.3 482.2 145 474C137.7 465.8 131 458.5 125 449C119 439.5 113.2 427.5 109 417C104.8 406.5 102 394.5 100 386C98 377.5 96.5 371.8 97 366Z" fill="#fff" filter="url(#grain)" opacity="0.55"/>
<path d="M97 366C97.5 360.2 99.8 354.7 103 351C106.2 347.3 110.7 345.5 116 344C121.3 342.5 127.7 341.7 135 342C142.3 342.3 150.5 343 160 346C169.5 349 180.3 352.7 192 360C203.7 367.3 217.5 378.3 230 390C242.5 401.7 257.5 419.8 267 430C276.5 440.2 281.2 445 287 451C292.8 457 297 460.7 302 466C307 471.3 312.5 478.8 317 483C321.5 487.2 325.2 489 329 491C332.8 493 336.3 494.3 340 495C343.7 495.7 347.8 495.5 351 495C354.2 494.5 356.8 493.7 359 492C361.2 490.3 362.8 488 364 485C365.2 482 365.7 477.7 366 474C366.3 470.3 366.2 466.8 366 463C365.8 459.2 365.8 454.8 365 451C364.2 447.2 362.7 443.7 361 440C359.3 436.3 357.3 432.8 355 429C352.7 425.2 349.8 422 347 417C344.2 412 341.2 405.2 338 399C334.8 392.8 331 386.5 328 380C325 373.5 322.8 367.3 320 360C317.2 352.7 314 345 311 336C308 327 304.2 316 302 306C299.8 296 297.7 284.7 298 276C298.3 267.3 300.7 259.3 304 254C307.3 248.7 313.2 246 318 244C322.8 242 327.7 241.7 333 242C338.3 242.3 344.3 243.2 350 246C355.7 248.8 361.2 253.7 367 259C372.8 264.3 379 271.2 385 278C391 284.8 398 293.8 403 300C408 306.2 411.3 310 415 315C418.7 320 421.5 324.2 425 330C428.5 335.8 432.7 343.3 436 350C439.3 356.7 442 363.3 445 370C448 376.7 451 383.3 454 390C457 396.7 459.8 403.3 463 410C466.2 416.7 469.5 423.2 473 430C476.5 436.8 479.7 444.2 484 451C488.3 457.8 492.3 464.8 499 471C505.7 477.2 515.7 482.8 524 488C532.3 493.2 540.2 496.8 549 502C557.8 507.2 567.7 512.8 577 519C586.3 525.2 596.3 531.5 605 539C613.7 546.5 621.8 556.2 629 564C636.2 571.8 642.7 577.7 648 586C653.3 594.3 657.8 604.7 661 614C664.2 623.3 666 634 667 642C668 650 667.2 654.8 667 662C666.8 669.2 667 678.7 666 685C665 691.3 663 694.3 661 700C659 705.7 656.3 712.3 654 719C651.7 725.7 648.5 734.5 647 740C645.5 745.5 645 752 645 752C645 752 648.7 743 651 738C653.3 733 656 727.2 659 722C662 716.8 665.5 712 669 707C672.5 702 675.7 697 680 692C684.3 687 688.8 682 695 677C701.2 672 709.5 666.3 717 662C724.5 657.7 732.5 654.2 740 651C747.5 647.8 754.8 645.3 762 643C769.2 640.7 776.8 640.3 783 637C789.2 633.7 794.5 628.7 799 623C803.5 617.3 806.8 610.3 810 603C813.2 595.7 816 586.8 818 579C820 571.2 820.2 563.8 822 556C823.8 548.2 826.3 539.8 829 532C831.7 524.2 834.5 515.5 838 509C841.5 502.5 844.8 497.2 850 493C855.2 488.8 862.7 485.8 869 484C875.3 482.2 882.8 482 888 482C893.2 482 896.3 482.7 900 484C903.7 485.3 907.3 487.2 910 490C912.7 492.8 914.5 495.2 916 501C917.5 506.8 918.7 515.8 919 525C919.3 534.2 919 547 918 556C917 565 915.3 571.2 913 579C910.7 586.8 907.7 595.2 904 603C900.3 610.8 895.2 618.2 891 626C886.8 633.8 881.8 642.2 879 650C876.2 657.8 874 666.5 874 673C874 679.5 875.8 685.7 879 689C882.2 692.3 888.2 693 893 693C897.8 693 901.5 691.8 908 689C914.5 686.2 924.2 681.2 932 676C939.8 670.8 948.3 663.2 955 658C961.7 652.8 963.7 651 972 645C980.3 639 994.2 628.5 1005 622C1015.8 615.5 1027.5 609.5 1037 606C1046.5 602.5 1054.2 601 1062 601C1069.8 601 1078.3 603.7 1084 606C1089.7 608.3 1093 610.8 1096 615C1099 619.2 1100.8 625.5 1102 631C1103.2 636.5 1103.3 642.2 1103 648C1102.7 653.8 1101.5 660.2 1100 666C1098.5 671.8 1096.7 678 1094 683C1091.3 688 1088.5 691.5 1084 696C1079.5 700.5 1073.5 705.5 1067 710C1060.5 714.5 1052.7 719 1045 723C1037.3 727 1027.7 730.2 1021 734C1014.3 737.8 1010.3 741.8 1005 746C999.7 750.2 993.3 754.2 989 759C984.7 763.8 981.8 768.3 979 775C976.2 781.7 973.8 790.8 972 799C970.2 807.2 969 817.2 968 824C967 830.8 967.2 833.2 966 840C964.8 846.8 962.8 856.7 961 865C959.2 873.3 956.8 881.7 955 890C953.2 898.3 950.8 906.7 950 915C949.2 923.3 949.2 932.7 950 940C950.8 947.3 952.5 952.8 955 959C957.5 965.2 961.7 969.8 965 977C968.3 984.2 971.8 993.7 975 1002C978.2 1010.3 981 1020.7 984 1027C987 1033.3 990.3 1034.2 993 1040C995.7 1045.8 997.8 1054.5 1000 1062C1002.2 1069.5 1004.7 1077.5 1006 1085C1007.3 1092.5 1007.3 1099.5 1008 1107C1008.7 1114.5 1009.3 1122.5 1010 1130C1010.7 1137.5 1010.7 1145.5 1012 1152C1013.3 1158.5 1015.7 1163.3 1018 1169C1020.3 1174.7 1023.5 1180.3 1026 1186C1028.5 1191.7 1031.7 1197.3 1033 1203C1034.3 1208.7 1034.3 1214.5 1034 1220C1033.7 1225.5 1032.7 1230.7 1031 1236C1029.3 1241.3 1028 1247 1024 1252C1020 1257 1012.2 1261.7 1007 1266C1001.8 1270.3 997.2 1273 993 1278C988.8 1283 984.7 1290.7 982 1296C979.3 1301.3 978.8 1304.3 977 1310C975.2 1315.7 972.7 1323.2 971 1330C969.3 1336.8 968.2 1342.8 967 1351C965.8 1359.2 964.8 1372 964 1379C963.2 1386 963.5 1389.7 962 1393C960.5 1396.3 955 1399 955 1399C955 1399 847 1399 847 1399C847 1399 846.5 1391.7 843 1389C839.5 1386.3 832.7 1384 826 1383C819.3 1382 808.3 1381.7 803 1383C797.7 1384.3 796 1388.3 794 1391C792 1393.7 791 1399 791 1399C791 1399 671 1399 671 1399C671 1399 667.8 1391.7 665 1387C662.2 1382.3 659.5 1374.7 654 1371C648.5 1367.3 639.5 1364.8 632 1365C624.5 1365.2 614.2 1368.7 609 1372C603.8 1375.3 602.8 1380.5 601 1385C599.2 1389.5 598 1399 598 1399C598 1399 499 1399 499 1399C499 1399 494.8 1395.8 492 1394C489.2 1392.2 485.7 1389.5 482 1388.5C478.3 1387.5 473.8 1387.3 470 1388C466.2 1388.7 462.5 1390.7 459 1392.5C455.5 1394.3 449 1399 449 1399C449 1399 372 1399 372 1399C372 1399 370.2 1396.5 370 1390C369.8 1383.5 370.7 1371.7 371 1360C371.3 1348.3 372.2 1331.7 372 1320C371.8 1308.3 371.2 1299 370 1290C368.8 1281 368.5 1272.8 365 1266C361.5 1259.2 357.2 1254.5 349 1249C340.8 1243.5 324.2 1238.3 316 1233C307.8 1227.7 303.5 1222.5 300 1217C296.5 1211.5 295 1207 295 1200C295 1193 297.8 1186 300 1175C302.2 1164 305.3 1150 308 1134C310.7 1118 314.3 1096.3 316 1079C317.7 1061.7 317.2 1044.8 318 1030C318.8 1015.2 319.8 1003.3 321 990C322.2 976.7 323.5 965 325 950C326.5 935 328 914.7 330 900C332 885.3 336 871.2 337 862C338 852.8 336.8 850.8 336 845C335.2 839.2 334.2 833.5 332 827C329.8 820.5 326.7 813.2 323 806C319.3 798.8 315.3 791.2 310 784C304.7 776.8 297 770 291 763C285 756 278.2 749.2 274 742C269.8 734.8 267.7 728.8 266 720C264.3 711.2 264.3 701.3 264 689C263.7 676.7 264.5 658.5 264 646C263.5 633.5 262.8 622.8 261 614C259.2 605.2 256.7 601.5 253 593C249.3 584.5 244.8 571.2 239 563C233.2 554.8 225.5 550.8 218 544C210.5 537.2 202.2 529.7 194 522C185.8 514.3 177.2 506 169 498C160.8 490 152.3 482.2 145 474C137.7 465.8 131 458.5 125 449C119 439.5 113.2 427.5 109 417C104.8 406.5 102 394.5 100 386C98 377.5 96.5 371.8 97 366Z" fill="#fff" filter="url(#grain2)" opacity="0.5"/>
<!-- edge bevel shading via lighting -->
<g clip-path="url(#clipOuter)">
  <path d="M97 366C97.5 360.2 99.8 354.7 103 351C106.2 347.3 110.7 345.5 116 344C121.3 342.5 127.7 341.7 135 342C142.3 342.3 150.5 343 160 346C169.5 349 180.3 352.7 192 360C203.7 367.3 217.5 378.3 230 390C242.5 401.7 257.5 419.8 267 430C276.5 440.2 281.2 445 287 451C292.8 457 297 460.7 302 466C307 471.3 312.5 478.8 317 483C321.5 487.2 325.2 489 329 491C332.8 493 336.3 494.3 340 495C343.7 495.7 347.8 495.5 351 495C354.2 494.5 356.8 493.7 359 492C361.2 490.3 362.8 488 364 485C365.2 482 365.7 477.7 366 474C366.3 470.3 366.2 466.8 366 463C365.8 459.2 365.8 454.8 365 451C364.2 447.2 362.7 443.7 361 440C359.3 436.3 357.3 432.8 355 429C352.7 425.2 349.8 422 347 417C344.2 412 341.2 405.2 338 399C334.8 392.8 331 386.5 328 380C325 373.5 322.8 367.3 320 360C317.2 352.7 314 345 311 336C308 327 304.2 316 302 306C299.8 296 297.7 284.7 298 276C298.3 267.3 300.7 259.3 304 254C307.3 248.7 313.2 246 318 244C322.8 242 327.7 241.7 333 242C338.3 242.3 344.3 243.2 350 246C355.7 248.8 361.2 253.7 367 259C372.8 264.3 379 271.2 385 278C391 284.8 398 293.8 403 300C408 306.2 411.3 310 415 315C418.7 320 421.5 324.2 425 330C428.5 335.8 432.7 343.3 436 350C439.3 356.7 442 363.3 445 370C448 376.7 451 383.3 454 390C457 396.7 459.8 403.3 463 410C466.2 416.7 469.5 423.2 473 430C476.5 436.8 479.7 444.2 484 451C488.3 457.8 492.3 464.8 499 471C505.7 477.2 515.7 482.8 524 488C532.3 493.2 540.2 496.8 549 502C557.8 507.2 567.7 512.8 577 519C586.3 525.2 596.3 531.5 605 539C613.7 546.5 621.8 556.2 629 564C636.2 571.8 642.7 577.7 648 586C653.3 594.3 657.8 604.7 661 614C664.2 623.3 666 634 667 642C668 650 667.2 654.8 667 662C666.8 669.2 667 678.7 666 685C665 691.3 663 694.3 661 700C659 705.7 656.3 712.3 654 719C651.7 725.7 648.5 734.5 647 740C645.5 745.5 645 752 645 752C645 752 648.7 743 651 738C653.3 733 656 727.2 659 722C662 716.8 665.5 712 669 707C672.5 702 675.7 697 680 692C684.3 687 688.8 682 695 677C701.2 672 709.5 666.3 717 662C724.5 657.7 732.5 654.2 740 651C747.5 647.8 754.8 645.3 762 643C769.2 640.7 776.8 640.3 783 637C789.2 633.7 794.5 628.7 799 623C803.5 617.3 806.8 610.3 810 603C813.2 595.7 816 586.8 818 579C820 571.2 820.2 563.8 822 556C823.8 548.2 826.3 539.8 829 532C831.7 524.2 834.5 515.5 838 509C841.5 502.5 844.8 497.2 850 493C855.2 488.8 862.7 485.8 869 484C875.3 482.2 882.8 482 888 482C893.2 482 896.3 482.7 900 484C903.7 485.3 907.3 487.2 910 490C912.7 492.8 914.5 495.2 916 501C917.5 506.8 918.7 515.8 919 525C919.3 534.2 919 547 918 556C917 565 915.3 571.2 913 579C910.7 586.8 907.7 595.2 904 603C900.3 610.8 895.2 618.2 891 626C886.8 633.8 881.8 642.2 879 650C876.2 657.8 874 666.5 874 673C874 679.5 875.8 685.7 879 689C882.2 692.3 888.2 693 893 693C897.8 693 901.5 691.8 908 689C914.5 686.2 924.2 681.2 932 676C939.8 670.8 948.3 663.2 955 658C961.7 652.8 963.7 651 972 645C980.3 639 994.2 628.5 1005 622C1015.8 615.5 1027.5 609.5 1037 606C1046.5 602.5 1054.2 601 1062 601C1069.8 601 1078.3 603.7 1084 606C1089.7 608.3 1093 610.8 1096 615C1099 619.2 1100.8 625.5 1102 631C1103.2 636.5 1103.3 642.2 1103 648C1102.7 653.8 1101.5 660.2 1100 666C1098.5 671.8 1096.7 678 1094 683C1091.3 688 1088.5 691.5 1084 696C1079.5 700.5 1073.5 705.5 1067 710C1060.5 714.5 1052.7 719 1045 723C1037.3 727 1027.7 730.2 1021 734C1014.3 737.8 1010.3 741.8 1005 746C999.7 750.2 993.3 754.2 989 759C984.7 763.8 981.8 768.3 979 775C976.2 781.7 973.8 790.8 972 799C970.2 807.2 969 817.2 968 824C967 830.8 967.2 833.2 966 840C964.8 846.8 962.8 856.7 961 865C959.2 873.3 956.8 881.7 955 890C953.2 898.3 950.8 906.7 950 915C949.2 923.3 949.2 932.7 950 940C950.8 947.3 952.5 952.8 955 959C957.5 965.2 961.7 969.8 965 977C968.3 984.2 971.8 993.7 975 1002C978.2 1010.3 981 1020.7 984 1027C987 1033.3 990.3 1034.2 993 1040C995.7 1045.8 997.8 1054.5 1000 1062C1002.2 1069.5 1004.7 1077.5 1006 1085C1007.3 1092.5 1007.3 1099.5 1008 1107C1008.7 1114.5 1009.3 1122.5 1010 1130C1010.7 1137.5 1010.7 1145.5 1012 1152C1013.3 1158.5 1015.7 1163.3 1018 1169C1020.3 1174.7 1023.5 1180.3 1026 1186C1028.5 1191.7 1031.7 1197.3 1033 1203C1034.3 1208.7 1034.3 1214.5 1034 1220C1033.7 1225.5 1032.7 1230.7 1031 1236C1029.3 1241.3 1028 1247 1024 1252C1020 1257 1012.2 1261.7 1007 1266C1001.8 1270.3 997.2 1273 993 1278C988.8 1283 984.7 1290.7 982 1296C979.3 1301.3 978.8 1304.3 977 1310C975.2 1315.7 972.7 1323.2 971 1330C969.3 1336.8 968.2 1342.8 967 1351C965.8 1359.2 964.8 1372 964 1379C963.2 1386 963.5 1389.7 962 1393C960.5 1396.3 955 1399 955 1399C955 1399 847 1399 847 1399C847 1399 846.5 1391.7 843 1389C839.5 1386.3 832.7 1384 826 1383C819.3 1382 808.3 1381.7 803 1383C797.7 1384.3 796 1388.3 794 1391C792 1393.7 791 1399 791 1399C791 1399 671 1399 671 1399C671 1399 667.8 1391.7 665 1387C662.2 1382.3 659.5 1374.7 654 1371C648.5 1367.3 639.5 1364.8 632 1365C624.5 1365.2 614.2 1368.7 609 1372C603.8 1375.3 602.8 1380.5 601 1385C599.2 1389.5 598 1399 598 1399C598 1399 499 1399 499 1399C499 1399 494.8 1395.8 492 1394C489.2 1392.2 485.7 1389.5 482 1388.5C478.3 1387.5 473.8 1387.3 470 1388C466.2 1388.7 462.5 1390.7 459 1392.5C455.5 1394.3 449 1399 449 1399C449 1399 372 1399 372 1399C372 1399 370.2 1396.5 370 1390C369.8 1383.5 370.7 1371.7 371 1360C371.3 1348.3 372.2 1331.7 372 1320C371.8 1308.3 371.2 1299 370 1290C368.8 1281 368.5 1272.8 365 1266C361.5 1259.2 357.2 1254.5 349 1249C340.8 1243.5 324.2 1238.3 316 1233C307.8 1227.7 303.5 1222.5 300 1217C296.5 1211.5 295 1207 295 1200C295 1193 297.8 1186 300 1175C302.2 1164 305.3 1150 308 1134C310.7 1118 314.3 1096.3 316 1079C317.7 1061.7 317.2 1044.8 318 1030C318.8 1015.2 319.8 1003.3 321 990C322.2 976.7 323.5 965 325 950C326.5 935 328 914.7 330 900C332 885.3 336 871.2 337 862C338 852.8 336.8 850.8 336 845C335.2 839.2 334.2 833.5 332 827C329.8 820.5 326.7 813.2 323 806C319.3 798.8 315.3 791.2 310 784C304.7 776.8 297 770 291 763C285 756 278.2 749.2 274 742C269.8 734.8 267.7 728.8 266 720C264.3 711.2 264.3 701.3 264 689C263.7 676.7 264.5 658.5 264 646C263.5 633.5 262.8 622.8 261 614C259.2 605.2 256.7 601.5 253 593C249.3 584.5 244.8 571.2 239 563C233.2 554.8 225.5 550.8 218 544C210.5 537.2 202.2 529.7 194 522C185.8 514.3 177.2 506 169 498C160.8 490 152.3 482.2 145 474C137.7 465.8 131 458.5 125 449C119 439.5 113.2 427.5 109 417C104.8 406.5 102 394.5 100 386C98 377.5 96.5 371.8 97 366Z" fill="none" stroke="#A87040" stroke-width="16" opacity="0.38" filter="url(#blur4)"/>
</g>
<g filter="url(#bevel)">
  <path d="M97 366C97.5 360.2 99.8 354.7 103 351C106.2 347.3 110.7 345.5 116 344C121.3 342.5 127.7 341.7 135 342C142.3 342.3 150.5 343 160 346C169.5 349 180.3 352.7 192 360C203.7 367.3 217.5 378.3 230 390C242.5 401.7 257.5 419.8 267 430C276.5 440.2 281.2 445 287 451C292.8 457 297 460.7 302 466C307 471.3 312.5 478.8 317 483C321.5 487.2 325.2 489 329 491C332.8 493 336.3 494.3 340 495C343.7 495.7 347.8 495.5 351 495C354.2 494.5 356.8 493.7 359 492C361.2 490.3 362.8 488 364 485C365.2 482 365.7 477.7 366 474C366.3 470.3 366.2 466.8 366 463C365.8 459.2 365.8 454.8 365 451C364.2 447.2 362.7 443.7 361 440C359.3 436.3 357.3 432.8 355 429C352.7 425.2 349.8 422 347 417C344.2 412 341.2 405.2 338 399C334.8 392.8 331 386.5 328 380C325 373.5 322.8 367.3 320 360C317.2 352.7 314 345 311 336C308 327 304.2 316 302 306C299.8 296 297.7 284.7 298 276C298.3 267.3 300.7 259.3 304 254C307.3 248.7 313.2 246 318 244C322.8 242 327.7 241.7 333 242C338.3 242.3 344.3 243.2 350 246C355.7 248.8 361.2 253.7 367 259C372.8 264.3 379 271.2 385 278C391 284.8 398 293.8 403 300C408 306.2 411.3 310 415 315C418.7 320 421.5 324.2 425 330C428.5 335.8 432.7 343.3 436 350C439.3 356.7 442 363.3 445 370C448 376.7 451 383.3 454 390C457 396.7 459.8 403.3 463 410C466.2 416.7 469.5 423.2 473 430C476.5 436.8 479.7 444.2 484 451C488.3 457.8 492.3 464.8 499 471C505.7 477.2 515.7 482.8 524 488C532.3 493.2 540.2 496.8 549 502C557.8 507.2 567.7 512.8 577 519C586.3 525.2 596.3 531.5 605 539C613.7 546.5 621.8 556.2 629 564C636.2 571.8 642.7 577.7 648 586C653.3 594.3 657.8 604.7 661 614C664.2 623.3 666 634 667 642C668 650 667.2 654.8 667 662C666.8 669.2 667 678.7 666 685C665 691.3 663 694.3 661 700C659 705.7 656.3 712.3 654 719C651.7 725.7 648.5 734.5 647 740C645.5 745.5 645 752 645 752C645 752 648.7 743 651 738C653.3 733 656 727.2 659 722C662 716.8 665.5 712 669 707C672.5 702 675.7 697 680 692C684.3 687 688.8 682 695 677C701.2 672 709.5 666.3 717 662C724.5 657.7 732.5 654.2 740 651C747.5 647.8 754.8 645.3 762 643C769.2 640.7 776.8 640.3 783 637C789.2 633.7 794.5 628.7 799 623C803.5 617.3 806.8 610.3 810 603C813.2 595.7 816 586.8 818 579C820 571.2 820.2 563.8 822 556C823.8 548.2 826.3 539.8 829 532C831.7 524.2 834.5 515.5 838 509C841.5 502.5 844.8 497.2 850 493C855.2 488.8 862.7 485.8 869 484C875.3 482.2 882.8 482 888 482C893.2 482 896.3 482.7 900 484C903.7 485.3 907.3 487.2 910 490C912.7 492.8 914.5 495.2 916 501C917.5 506.8 918.7 515.8 919 525C919.3 534.2 919 547 918 556C917 565 915.3 571.2 913 579C910.7 586.8 907.7 595.2 904 603C900.3 610.8 895.2 618.2 891 626C886.8 633.8 881.8 642.2 879 650C876.2 657.8 874 666.5 874 673C874 679.5 875.8 685.7 879 689C882.2 692.3 888.2 693 893 693C897.8 693 901.5 691.8 908 689C914.5 686.2 924.2 681.2 932 676C939.8 670.8 948.3 663.2 955 658C961.7 652.8 963.7 651 972 645C980.3 639 994.2 628.5 1005 622C1015.8 615.5 1027.5 609.5 1037 606C1046.5 602.5 1054.2 601 1062 601C1069.8 601 1078.3 603.7 1084 606C1089.7 608.3 1093 610.8 1096 615C1099 619.2 1100.8 625.5 1102 631C1103.2 636.5 1103.3 642.2 1103 648C1102.7 653.8 1101.5 660.2 1100 666C1098.5 671.8 1096.7 678 1094 683C1091.3 688 1088.5 691.5 1084 696C1079.5 700.5 1073.5 705.5 1067 710C1060.5 714.5 1052.7 719 1045 723C1037.3 727 1027.7 730.2 1021 734C1014.3 737.8 1010.3 741.8 1005 746C999.7 750.2 993.3 754.2 989 759C984.7 763.8 981.8 768.3 979 775C976.2 781.7 973.8 790.8 972 799C970.2 807.2 969 817.2 968 824C967 830.8 967.2 833.2 966 840C964.8 846.8 962.8 856.7 961 865C959.2 873.3 956.8 881.7 955 890C953.2 898.3 950.8 906.7 950 915C949.2 923.3 949.2 932.7 950 940C950.8 947.3 952.5 952.8 955 959C957.5 965.2 961.7 969.8 965 977C968.3 984.2 971.8 993.7 975 1002C978.2 1010.3 981 1020.7 984 1027C987 1033.3 990.3 1034.2 993 1040C995.7 1045.8 997.8 1054.5 1000 1062C1002.2 1069.5 1004.7 1077.5 1006 1085C1007.3 1092.5 1007.3 1099.5 1008 1107C1008.7 1114.5 1009.3 1122.5 1010 1130C1010.7 1137.5 1010.7 1145.5 1012 1152C1013.3 1158.5 1015.7 1163.3 1018 1169C1020.3 1174.7 1023.5 1180.3 1026 1186C1028.5 1191.7 1031.7 1197.3 1033 1203C1034.3 1208.7 1034.3 1214.5 1034 1220C1033.7 1225.5 1032.7 1230.7 1031 1236C1029.3 1241.3 1028 1247 1024 1252C1020 1257 1012.2 1261.7 1007 1266C1001.8 1270.3 997.2 1273 993 1278C988.8 1283 984.7 1290.7 982 1296C979.3 1301.3 978.8 1304.3 977 1310C975.2 1315.7 972.7 1323.2 971 1330C969.3 1336.8 968.2 1342.8 967 1351C965.8 1359.2 964.8 1372 964 1379C963.2 1386 963.5 1389.7 962 1393C960.5 1396.3 955 1399 955 1399C955 1399 847 1399 847 1399C847 1399 846.5 1391.7 843 1389C839.5 1386.3 832.7 1384 826 1383C819.3 1382 808.3 1381.7 803 1383C797.7 1384.3 796 1388.3 794 1391C792 1393.7 791 1399 791 1399C791 1399 671 1399 671 1399C671 1399 667.8 1391.7 665 1387C662.2 1382.3 659.5 1374.7 654 1371C648.5 1367.3 639.5 1364.8 632 1365C624.5 1365.2 614.2 1368.7 609 1372C603.8 1375.3 602.8 1380.5 601 1385C599.2 1389.5 598 1399 598 1399C598 1399 499 1399 499 1399C499 1399 494.8 1395.8 492 1394C489.2 1392.2 485.7 1389.5 482 1388.5C478.3 1387.5 473.8 1387.3 470 1388C466.2 1388.7 462.5 1390.7 459 1392.5C455.5 1394.3 449 1399 449 1399C449 1399 372 1399 372 1399C372 1399 370.2 1396.5 370 1390C369.8 1383.5 370.7 1371.7 371 1360C371.3 1348.3 372.2 1331.7 372 1320C371.8 1308.3 371.2 1299 370 1290C368.8 1281 368.5 1272.8 365 1266C361.5 1259.2 357.2 1254.5 349 1249C340.8 1243.5 324.2 1238.3 316 1233C307.8 1227.7 303.5 1222.5 300 1217C296.5 1211.5 295 1207 295 1200C295 1193 297.8 1186 300 1175C302.2 1164 305.3 1150 308 1134C310.7 1118 314.3 1096.3 316 1079C317.7 1061.7 317.2 1044.8 318 1030C318.8 1015.2 319.8 1003.3 321 990C322.2 976.7 323.5 965 325 950C326.5 935 328 914.7 330 900C332 885.3 336 871.2 337 862C338 852.8 336.8 850.8 336 845C335.2 839.2 334.2 833.5 332 827C329.8 820.5 326.7 813.2 323 806C319.3 798.8 315.3 791.2 310 784C304.7 776.8 297 770 291 763C285 756 278.2 749.2 274 742C269.8 734.8 267.7 728.8 266 720C264.3 711.2 264.3 701.3 264 689C263.7 676.7 264.5 658.5 264 646C263.5 633.5 262.8 622.8 261 614C259.2 605.2 256.7 601.5 253 593C249.3 584.5 244.8 571.2 239 563C233.2 554.8 225.5 550.8 218 544C210.5 537.2 202.2 529.7 194 522C185.8 514.3 177.2 506 169 498C160.8 490 152.3 482.2 145 474C137.7 465.8 131 458.5 125 449C119 439.5 113.2 427.5 109 417C104.8 406.5 102 394.5 100 386C98 377.5 96.5 371.8 97 366Z" fill="#fff"/>
</g>

<!-- gap lines -->
<g fill="none" stroke-linecap="round" stroke-linejoin="round" clip-path="url(#clipOuter)">
  <path d="M645 752C644.2 755.3 641.3 764.8 640 772C638.7 779.2 637.5 786.7 637 795C636.5 803.3 636.5 812.8 637 822C637.5 831.2 638.2 841.2 640 850C641.8 858.8 644.7 867.2 648 875C651.3 882.8 654.3 889.7 660 897C665.7 904.3 675 913 682 919C689 925 694.8 929.3 702 933C709.2 936.7 716.2 938.8 725 941C733.8 943.2 742.5 945.5 755 946C767.5 946.5 785.5 945.2 800 944C814.5 942.8 832.3 939.3 842 939C851.7 938.7 854 939.8 858 942C862 944.2 865.3 948.2 866 952C866.7 955.8 864.7 961.2 862 965C859.3 968.8 857.5 971.3 850 975C842.5 978.7 826.2 983.3 817 987C807.8 990.7 798.7 995.3 795 997" stroke="#A86E40" stroke-width="16" opacity="0.35" transform="translate(8,-6)" filter="url(#blur4)"/>
  <path d="M508 1084C507.3 1085.5 505.3 1088.7 504 1093C502.7 1097.3 500.7 1104.2 500 1110C499.3 1115.8 499.3 1122.3 500 1128C500.7 1133.7 501.8 1139.2 504 1144C506.2 1148.8 509 1152.8 513 1157C517 1161.2 523.5 1165.2 528 1169C532.5 1172.8 537.5 1176.5 540 1180C542.5 1183.5 543.3 1187 543 1190C542.7 1193 541 1196.2 538 1198C535 1199.8 532.2 1200 525 1201C517.8 1202 505 1202.5 495 1204C485 1205.5 472.7 1207.7 465 1210C457.3 1212.3 452.8 1215 449 1218C445.2 1221 443 1224.3 442 1228C441 1231.7 441.7 1236 443 1240C444.3 1244 446.3 1249 450 1252C453.7 1255 457.5 1257 465 1258C472.5 1259 485 1258.2 495 1258C505 1257.8 517.5 1256.7 525 1257C532.5 1257.3 536.3 1257.8 540 1260C543.7 1262.2 545.3 1265.8 547 1270C548.7 1274.2 549.3 1280 550 1285C550.7 1290 551.2 1295 551 1300C550.8 1305 550.2 1309.3 549 1315C547.8 1320.7 546.3 1326.7 544 1334C541.7 1341.3 537.7 1351.3 535 1359C532.3 1366.7 529.7 1373.5 528 1380C526.3 1386.5 525.5 1395 525 1398" stroke="#A86E40" stroke-width="12" opacity="0.3" transform="translate(7,-2)" filter="url(#blur4)"/>
  <path d="M817 1199C817.2 1201.7 819.2 1210.2 818 1215C816.8 1219.8 813.8 1224.5 810 1228C806.2 1231.5 803.3 1234.2 795 1236C786.7 1237.8 770.8 1238.2 760 1239C749.2 1239.8 737 1239.3 730 1241C723 1242.7 720.8 1245.5 718 1249C715.2 1252.5 713.5 1255.2 713 1262C712.5 1268.8 713.3 1280.3 715 1290C716.7 1299.7 720.3 1310.5 723 1320C725.7 1329.5 728.8 1337.8 731 1347C733.2 1356.2 734.8 1366.5 736 1375C737.2 1383.5 737.7 1394.2 738 1398" stroke="#A86E40" stroke-width="12" opacity="0.3" transform="translate(-7,-2)" filter="url(#blur4)"/>
  <path d="M639 980C639.3 986.7 640.2 1009.2 641 1020C641.8 1030.8 642.2 1037 644 1045C645.8 1053 649 1061.8 652 1068C655 1074.2 659.3 1078.3 662 1082C664.7 1085.7 667 1088.7 668 1090" stroke="#A86E40" stroke-width="12" opacity="0.25" transform="translate(-6,0)" filter="url(#blur4)"/>
</g>
<g fill="none" stroke-linecap="round" stroke-linejoin="round">
  <path d="M645 752C644.2 755.3 641.3 764.8 640 772C638.7 779.2 637.5 786.7 637 795C636.5 803.3 636.5 812.8 637 822C637.5 831.2 638.2 841.2 640 850C641.8 858.8 644.7 867.2 648 875C651.3 882.8 654.3 889.7 660 897C665.7 904.3 675 913 682 919C689 925 694.8 929.3 702 933C709.2 936.7 716.2 938.8 725 941C733.8 943.2 742.5 945.5 755 946C767.5 946.5 785.5 945.2 800 944C814.5 942.8 832.3 939.3 842 939C851.7 938.7 854 939.8 858 942C862 944.2 865.3 948.2 866 952C866.7 955.8 864.7 961.2 862 965C859.3 968.8 857.5 971.3 850 975C842.5 978.7 826.2 983.3 817 987C807.8 990.7 798.7 995.3 795 997" stroke="#fff6ea" stroke-width="6" opacity="0.7" transform="translate(2,2)"/>
  <path d="M508 1084C507.3 1085.5 505.3 1088.7 504 1093C502.7 1097.3 500.7 1104.2 500 1110C499.3 1115.8 499.3 1122.3 500 1128C500.7 1133.7 501.8 1139.2 504 1144C506.2 1148.8 509 1152.8 513 1157C517 1161.2 523.5 1165.2 528 1169C532.5 1172.8 537.5 1176.5 540 1180C542.5 1183.5 543.3 1187 543 1190C542.7 1193 541 1196.2 538 1198C535 1199.8 532.2 1200 525 1201C517.8 1202 505 1202.5 495 1204C485 1205.5 472.7 1207.7 465 1210C457.3 1212.3 452.8 1215 449 1218C445.2 1221 443 1224.3 442 1228C441 1231.7 441.7 1236 443 1240C444.3 1244 446.3 1249 450 1252C453.7 1255 457.5 1257 465 1258C472.5 1259 485 1258.2 495 1258C505 1257.8 517.5 1256.7 525 1257C532.5 1257.3 536.3 1257.8 540 1260C543.7 1262.2 545.3 1265.8 547 1270C548.7 1274.2 549.3 1280 550 1285C550.7 1290 551.2 1295 551 1300C550.8 1305 550.2 1309.3 549 1315C547.8 1320.7 546.3 1326.7 544 1334C541.7 1341.3 537.7 1351.3 535 1359C532.3 1366.7 529.7 1373.5 528 1380C526.3 1386.5 525.5 1395 525 1398" stroke="#fff3e2" stroke-width="9" opacity="0.55" transform="translate(-4,1)" filter="url(#blur2)"/>
  <path d="M817 1199C817.2 1201.7 819.2 1210.2 818 1215C816.8 1219.8 813.8 1224.5 810 1228C806.2 1231.5 803.3 1234.2 795 1236C786.7 1237.8 770.8 1238.2 760 1239C749.2 1239.8 737 1239.3 730 1241C723 1242.7 720.8 1245.5 718 1249C715.2 1252.5 713.5 1255.2 713 1262C712.5 1268.8 713.3 1280.3 715 1290C716.7 1299.7 720.3 1310.5 723 1320C725.7 1329.5 728.8 1337.8 731 1347C733.2 1356.2 734.8 1366.5 736 1375C737.2 1383.5 737.7 1394.2 738 1398" stroke="#fff3e2" stroke-width="7" opacity="0.45" transform="translate(4,0)" filter="url(#blur2)"/>
  <path d="M645 752C644.2 755.3 641.3 764.8 640 772C638.7 779.2 637.5 786.7 637 795C636.5 803.3 636.5 812.8 637 822C637.5 831.2 638.2 841.2 640 850C641.8 858.8 644.7 867.2 648 875C651.3 882.8 654.3 889.7 660 897C665.7 904.3 675 913 682 919C689 925 694.8 929.3 702 933C709.2 936.7 716.2 938.8 725 941C733.8 943.2 742.5 945.5 755 946C767.5 946.5 785.5 945.2 800 944C814.5 942.8 832.3 939.3 842 939C851.7 938.7 854 939.8 858 942C862 944.2 865.3 948.2 866 952C866.7 955.8 864.7 961.2 862 965C859.3 968.8 857.5 971.3 850 975C842.5 978.7 826.2 983.3 817 987C807.8 990.7 798.7 995.3 795 997" stroke="#3f2414" stroke-width="3.2"/>
  <path d="M639 980C639.3 986.7 640.2 1009.2 641 1020C641.8 1030.8 642.2 1037 644 1045C645.8 1053 649 1061.8 652 1068C655 1074.2 659.3 1078.3 662 1082C664.7 1085.7 667 1088.7 668 1090" stroke="#3f2414" stroke-width="3.2"/>
  <path d="M508 1084C507.3 1085.5 505.3 1088.7 504 1093C502.7 1097.3 500.7 1104.2 500 1110C499.3 1115.8 499.3 1122.3 500 1128C500.7 1133.7 501.8 1139.2 504 1144C506.2 1148.8 509 1152.8 513 1157C517 1161.2 523.5 1165.2 528 1169C532.5 1172.8 537.5 1176.5 540 1180C542.5 1183.5 543.3 1187 543 1190C542.7 1193 541 1196.2 538 1198C535 1199.8 532.2 1200 525 1201C517.8 1202 505 1202.5 495 1204C485 1205.5 472.7 1207.7 465 1210C457.3 1212.3 452.8 1215 449 1218C445.2 1221 443 1224.3 442 1228C441 1231.7 441.7 1236 443 1240C444.3 1244 446.3 1249 450 1252C453.7 1255 457.5 1257 465 1258C472.5 1259 485 1258.2 495 1258C505 1257.8 517.5 1256.7 525 1257C532.5 1257.3 536.3 1257.8 540 1260C543.7 1262.2 545.3 1265.8 547 1270C548.7 1274.2 549.3 1280 550 1285C550.7 1290 551.2 1295 551 1300C550.8 1305 550.2 1309.3 549 1315C547.8 1320.7 546.3 1326.7 544 1334C541.7 1341.3 537.7 1351.3 535 1359C532.3 1366.7 529.7 1373.5 528 1380C526.3 1386.5 525.5 1395 525 1398" stroke="#321a0c" stroke-width="4"/>
  <path d="M817 1199C817.2 1201.7 819.2 1210.2 818 1215C816.8 1219.8 813.8 1224.5 810 1228C806.2 1231.5 803.3 1234.2 795 1236C786.7 1237.8 770.8 1238.2 760 1239C749.2 1239.8 737 1239.3 730 1241C723 1242.7 720.8 1245.5 718 1249C715.2 1252.5 713.5 1255.2 713 1262C712.5 1268.8 713.3 1280.3 715 1290C716.7 1299.7 720.3 1310.5 723 1320C725.7 1329.5 728.8 1337.8 731 1347C733.2 1356.2 734.8 1366.5 736 1375C737.2 1383.5 737.7 1394.2 738 1398" stroke="#321a0c" stroke-width="3.6"/>
</g>

<!-- heart -->
<path d="M747 983C753.8 982.3 756 983.2 761 984C766 984.8 772 985.7 777 988C782 990.3 787.2 993.8 791 998C794.8 1002.2 797.5 1007.7 800 1013C802.5 1018.3 803.3 1025.3 806 1030C808.7 1034.7 810.8 1038.3 816 1041C821.2 1043.7 829.5 1043.8 837 1046C844.5 1048.2 853.7 1049.8 861 1054C868.3 1058.2 875.8 1064.7 881 1071C886.2 1077.3 889.7 1084.5 892 1092C894.3 1099.5 895.3 1107.8 895 1116C894.7 1124.2 893.5 1132.8 890 1141C886.5 1149.2 881.5 1157.5 874 1165C866.5 1172.5 853.8 1180.8 845 1186C836.2 1191.2 829.2 1193.5 821 1196C812.8 1198.5 805.5 1200 796 1201C786.5 1202 774.8 1202.7 764 1202C753.2 1201.3 740.3 1199.7 731 1197C721.7 1194.3 714.5 1191.3 708 1186C701.5 1180.7 697 1174 692 1165C687 1156 682 1142.8 678 1132C674 1121.2 670 1110.8 668 1100C666 1089.2 665 1077.8 666 1067C667 1056.2 668.8 1046 674 1035C679.2 1024 689.3 1008.8 697 1001C704.7 993.2 711.7 991 720 988C728.3 985 740.2 983.7 747 983Z" fill="none" stroke="#8a5a36" stroke-width="14" opacity="0.35" filter="url(#blur4)" transform="translate(5 3)"/>
<path d="M747 983C753.8 982.3 756 983.2 761 984C766 984.8 772 985.7 777 988C782 990.3 787.2 993.8 791 998C794.8 1002.2 797.5 1007.7 800 1013C802.5 1018.3 803.3 1025.3 806 1030C808.7 1034.7 810.8 1038.3 816 1041C821.2 1043.7 829.5 1043.8 837 1046C844.5 1048.2 853.7 1049.8 861 1054C868.3 1058.2 875.8 1064.7 881 1071C886.2 1077.3 889.7 1084.5 892 1092C894.3 1099.5 895.3 1107.8 895 1116C894.7 1124.2 893.5 1132.8 890 1141C886.5 1149.2 881.5 1157.5 874 1165C866.5 1172.5 853.8 1180.8 845 1186C836.2 1191.2 829.2 1193.5 821 1196C812.8 1198.5 805.5 1200 796 1201C786.5 1202 774.8 1202.7 764 1202C753.2 1201.3 740.3 1199.7 731 1197C721.7 1194.3 714.5 1191.3 708 1186C701.5 1180.7 697 1174 692 1165C687 1156 682 1142.8 678 1132C674 1121.2 670 1110.8 668 1100C666 1089.2 665 1077.8 666 1067C667 1056.2 668.8 1046 674 1035C679.2 1024 689.3 1008.8 697 1001C704.7 993.2 711.7 991 720 988C728.3 985 740.2 983.7 747 983Z" fill="url(#heartG)" stroke="#1f0c02" stroke-width="4.5" stroke-linejoin="round"/>
<g transform="rotate(28 781 1092)" filter="url(#grainH)" opacity="0.6"><path d="M747 983C753.8 982.3 756 983.2 761 984C766 984.8 772 985.7 777 988C782 990.3 787.2 993.8 791 998C794.8 1002.2 797.5 1007.7 800 1013C802.5 1018.3 803.3 1025.3 806 1030C808.7 1034.7 810.8 1038.3 816 1041C821.2 1043.7 829.5 1043.8 837 1046C844.5 1048.2 853.7 1049.8 861 1054C868.3 1058.2 875.8 1064.7 881 1071C886.2 1077.3 889.7 1084.5 892 1092C894.3 1099.5 895.3 1107.8 895 1116C894.7 1124.2 893.5 1132.8 890 1141C886.5 1149.2 881.5 1157.5 874 1165C866.5 1172.5 853.8 1180.8 845 1186C836.2 1191.2 829.2 1193.5 821 1196C812.8 1198.5 805.5 1200 796 1201C786.5 1202 774.8 1202.7 764 1202C753.2 1201.3 740.3 1199.7 731 1197C721.7 1194.3 714.5 1191.3 708 1186C701.5 1180.7 697 1174 692 1165C687 1156 682 1142.8 678 1132C674 1121.2 670 1110.8 668 1100C666 1089.2 665 1077.8 666 1067C667 1056.2 668.8 1046 674 1035C679.2 1024 689.3 1008.8 697 1001C704.7 993.2 711.7 991 720 988C728.3 985 740.2 983.7 747 983Z" fill="#fff" transform="rotate(-28 781 1092)"/></g>
<path d="M747 983C753.8 982.3 756 983.2 761 984C766 984.8 772 985.7 777 988C782 990.3 787.2 993.8 791 998C794.8 1002.2 797.5 1007.7 800 1013C802.5 1018.3 803.3 1025.3 806 1030C808.7 1034.7 810.8 1038.3 816 1041C821.2 1043.7 829.5 1043.8 837 1046C844.5 1048.2 853.7 1049.8 861 1054C868.3 1058.2 875.8 1064.7 881 1071C886.2 1077.3 889.7 1084.5 892 1092C894.3 1099.5 895.3 1107.8 895 1116C894.7 1124.2 893.5 1132.8 890 1141C886.5 1149.2 881.5 1157.5 874 1165C866.5 1172.5 853.8 1180.8 845 1186C836.2 1191.2 829.2 1193.5 821 1196C812.8 1198.5 805.5 1200 796 1201C786.5 1202 774.8 1202.7 764 1202C753.2 1201.3 740.3 1199.7 731 1197C721.7 1194.3 714.5 1191.3 708 1186C701.5 1180.7 697 1174 692 1165C687 1156 682 1142.8 678 1132C674 1121.2 670 1110.8 668 1100C666 1089.2 665 1077.8 666 1067C667 1056.2 668.8 1046 674 1035C679.2 1024 689.3 1008.8 697 1001C704.7 993.2 711.7 991 720 988C728.3 985 740.2 983.7 747 983Z" fill="#fff" filter="url(#bevelH)"/>
<path d="M747 983C753.8 982.3 756 983.2 761 984C766 984.8 772 985.7 777 988C782 990.3 787.2 993.8 791 998C794.8 1002.2 797.5 1007.7 800 1013C802.5 1018.3 803.3 1025.3 806 1030C808.7 1034.7 810.8 1038.3 816 1041C821.2 1043.7 829.5 1043.8 837 1046C844.5 1048.2 853.7 1049.8 861 1054C868.3 1058.2 875.8 1064.7 881 1071C886.2 1077.3 889.7 1084.5 892 1092C894.3 1099.5 895.3 1107.8 895 1116C894.7 1124.2 893.5 1132.8 890 1141C886.5 1149.2 881.5 1157.5 874 1165C866.5 1172.5 853.8 1180.8 845 1186C836.2 1191.2 829.2 1193.5 821 1196C812.8 1198.5 805.5 1200 796 1201C786.5 1202 774.8 1202.7 764 1202C753.2 1201.3 740.3 1199.7 731 1197C721.7 1194.3 714.5 1191.3 708 1186C701.5 1180.7 697 1174 692 1165C687 1156 682 1142.8 678 1132C674 1121.2 670 1110.8 668 1100C666 1089.2 665 1077.8 666 1067C667 1056.2 668.8 1046 674 1035C679.2 1024 689.3 1008.8 697 1001C704.7 993.2 711.7 991 720 988C728.3 985 740.2 983.7 747 983Z" fill="none" stroke="#1f0c02" stroke-width="4.5" stroke-linejoin="round"/>

<!-- B1 face -->
<g fill="none" stroke="#804C2C" stroke-linecap="round" stroke-width="5.5">
  <path d="M414 665 Q444 672 477 654"/>
  <path d="M570 621 Q590 617 605 605"/>
  <path d="M556 678 L567 716"/>
  <path d="M481 730 Q530 733 567 718 Q592 706 610 686"/>
  <path d="M382 712 l1 10 M394 708 l0 11 M406 707 l1 11" stroke-width="4"/>
  <path d="M630 633 l2 10 M641 629 l2 11" stroke-width="4"/>
</g>
<path d="M527 668 Q524 652 545 650 Q566 649 566 661 Q565 675 552 679 Q533 681 527 668Z" fill="#74482E"/>

<!-- B2 face -->
<g fill="none" stroke="#9B5A2D" stroke-linecap="round" stroke-width="5">
  <path d="M687 830.5 Q701 835 716 831"/>
  <path d="M793 822.5 Q817 824 838 812"/>
  <path d="M753.5 864 L753.5 877" stroke-width="4.5"/>
  <path d="M744 879 Q757 882 770 879"/>
  <path d="M672.5 849 l0.5 9 M680.5 849 l0.5 9" stroke-width="3.5"/>
  <path d="M854 830 l1 9 M862 829.5 l1 9 M871 828 l1 9" stroke-width="3.5"/>
</g>
<path d="M737.5 851 Q737.5 844.5 753 844.5 Q769 844.5 769 851 Q768 861 753 865.5 Q738 861 737.5 851Z" fill="#9B5A2D"/>

<!-- B3 face -->
<g fill="none" stroke="#965530" stroke-linecap="round" stroke-width="4">
  <path d="M538 1130 Q544 1115 554 1128"/>
  <path d="M598.5 1123 Q606 1109 617 1121.5"/>
  <path d="M577.5 1138 L579 1152" stroke-width="3.5"/>
</g>
<path d="M568.5 1133 Q576 1128.5 585.5 1132 Q583 1139 578 1141 Q571 1139 568.5 1133Z" fill="#965530"/>

<!-- engraved names on wood -->
<g transform="translate(844.0 1243.0) scale(0.3550)" fill="none" stroke="#91522A" stroke-linejoin="miter"><path transform="translate(0.0 0)" d="M14 -100 V0 M86 -100 V0 M0 -94.0 H26 M74 -94.0 H100 M0 -6.0 H30" stroke-width="12.0"/><path transform="translate(0.0 0)" d="M8.0 -100 L26.6 -100 L92.0 0 L73.4 0 Z" fill="#91522A" stroke="none"/><path transform="translate(112.8 0)" d="M10 -58 C14 -68 24 -72 34 -72 C48 -72 54 -64 54 -50 V-6.0 M54 -42 C30 -42 6 -38 6 -19 C6 -6 15 1 27 1 C40 1 48 -7 54 -15 M54 -6.0 H66" stroke-width="12.0"/><path transform="translate(191.6 0)" d="M12 -72 V0 M0 -66.0 H12 M0 -6.0 H25 M12 -54 C18 -67 28 -72 38 -72 C51 -72 56 -65 56 -52 V0 M45 -6.0 H68 M56 -54 C62 -67 72 -72 82 -72 C95 -72 100 -65 100 -52 V0 M89 -6.0 H112" stroke-width="12.0"/><path transform="translate(316.4 0)" d="M7 -37 H60 C60 -60 50 -72 34 -72 C16 -72 6 -58 6 -35 C6 -11 18 1 36 1 C48 1 56 -5 61 -14" stroke-width="12.0"/><path transform="translate(396.2 0)" d="M10 -78 C13 -93 24 -100 37 -100 C53 -100 61 -90 61 -76 C61 -60 50 -50 12 -8 V-6.0 H63 V-18" stroke-width="12.0"/></g>
<g transform="translate(565.5 1289.0) scale(0.2850)" fill="none" stroke="#91522A" stroke-linejoin="miter"><path transform="translate(0.0 0)" d="M14 -100 V0 M86 -100 V0 M0 -93.75 H26 M74 -93.75 H100 M0 -6.25 H30" stroke-width="12.5"/><path transform="translate(0.0 0)" d="M7.75 -100 L27.125 -100 L92.25 0 L72.875 0 Z" fill="#91522A" stroke="none"/><path transform="translate(109.4 0)" d="M10 -58 C14 -68 24 -72 34 -72 C48 -72 54 -64 54 -50 V-6.25 M54 -42 C30 -42 6 -38 6 -19 C6 -6 15 1 27 1 C40 1 48 -7 54 -15 M54 -6.25 H66" stroke-width="12.5"/><path transform="translate(184.8 0)" d="M12 -72 V0 M0 -65.75 H12 M0 -6.25 H25 M12 -54 C18 -67 28 -72 38 -72 C51 -72 56 -65 56 -52 V0 M45 -6.25 H68 M56 -54 C62 -67 72 -72 82 -72 C95 -72 100 -65 100 -52 V0 M89 -6.25 H112" stroke-width="12.5"/><path transform="translate(306.2 0)" d="M7 -37 H60 C60 -60 50 -72 34 -72 C16 -72 6 -58 6 -35 C6 -11 18 1 36 1 C48 1 56 -5 61 -14" stroke-width="12.5"/><path transform="translate(382.6 0)" d="M10 -84 C16 -96 26 -100 37 -100 C51 -100 59 -92 59 -79 C59 -63 47 -55 30 -55 M30 -55 C51 -55 63 -45 63 -28 C63 -10 51 1 35 1 C22 1 12 -5 6 -16" stroke-width="12.5"/></g>

<!-- magnifier handle -->
<g>
  <g transform="translate(336 1096) rotate(38.4)">
    <rect x="-12" y="-70" width="24" height="70" fill="url(#neckG)"/>
    <rect x="-27" y="-4" width="54" height="220" rx="6" fill="url(#handleG)"/>
  </g>
  <g transform="translate(358 1063) rotate(38.4)" fill="#222">
    <rect x="-16" y="-14" width="32" height="4" rx="1.5"/>
    <rect x="-16" y="-6" width="32" height="4" rx="1.5"/>
    <rect x="-16" y="2" width="32" height="4" rx="1.5"/>
  </g>
</g>

<!-- lens -->
<g clip-path="url(#clipLens)">
  <circle cx="484" cy="916" r="168" fill="#EDC59C"/>
  <circle cx="484" cy="916" r="168" fill="#fff" filter="url(#grainL)" opacity="0.5"/>
  <g transform="translate(346.0 954.5) scale(0.6250)" fill="none" stroke="#9A5A30" stroke-linejoin="miter"><path transform="translate(0.0 0)" d="M14 -100 V0 M86 -100 V0 M0 -93.5 H26 M74 -93.5 H100 M0 -6.5 H30" stroke-width="13.0"/><path transform="translate(0.0 0)" d="M7.5 -100 L27.65 -100 L92.5 0 L72.35 0 Z" fill="#9A5A30" stroke="none"/><path transform="translate(108.3 0)" d="M10 -58 C14 -68 24 -72 34 -72 C48 -72 54 -64 54 -50 V-6.5 M54 -42 C30 -42 6 -38 6 -19 C6 -6 15 1 27 1 C40 1 48 -7 54 -15 M54 -6.5 H66" stroke-width="13.0"/><path transform="translate(182.7 0)" d="M12 -72 V0 M0 -65.5 H12 M0 -6.5 H25 M12 -54 C18 -67 28 -72 38 -72 C51 -72 56 -65 56 -52 V0 M45 -6.5 H68 M56 -54 C62 -67 72 -72 82 -72 C95 -72 100 -65 100 -52 V0 M89 -6.5 H112" stroke-width="13.0"/><path transform="translate(303.0 0)" d="M7 -37 H60 C60 -60 50 -72 34 -72 C16 -72 6 -58 6 -35 C6 -11 18 1 36 1 C48 1 56 -5 61 -14" stroke-width="13.0"/><path transform="translate(378.4 0)" d="M36 -100 V0 M36 -100 L12 -84 M12 -6.5 H60" stroke-width="13.0"/></g>
  <path d="M375 842 Q398 805 448 792 L448 810 Q405 818 375 842Z" fill="#F4F6F8"/>
  <path d="M461.5 787 Q476 786 490 786.5 L490 809 Q476 808.5 461.5 809.5Z" fill="#F4F6F8"/>
  <path d="M502 787 Q525 787.5 548 790 L548 814 Q525 810 502 809Z" fill="#F4F6F8"/>
  <path d="M387 1013 Q440 1055 492 1053 Q565 1043 607 973 Q562 1034 492 1046 Q440 1048 387 1013Z" fill="#ECECEC"/>
</g>
<circle cx="484" cy="916" r="159" fill="none" stroke="url(#ringG)" stroke-width="19"/>
<circle cx="484" cy="916" r="166.5" fill="none" stroke="#8a8a8a" stroke-width="3"/>
<circle cx="484" cy="916" r="163" fill="none" stroke="#f4f4f4" stroke-width="3.5"/>
<circle cx="484" cy="916" r="157.5" fill="none" stroke="url(#ringD)" stroke-width="6"/>
<circle cx="484" cy="916" r="152.5" fill="none" stroke="#f6f6f6" stroke-width="3.5"/>

<!-- green check -->
<circle cx="586" cy="810" r="45" fill="#2DA02A" stroke="#86D074" stroke-width="1.5"/>
<path d="M567 812 L578.5 824 L607 800.5" fill="none" stroke="#fff" stroke-width="9" stroke-linecap="round" stroke-linejoin="round"/>

<!-- red arrow -->
<path d="M616.9 530.4 L618.0 529.2 L619.2 527.8 L620.5 526.1 L621.9 524.4 L623.5 522.4 L625.1 520.4 L626.9 518.2 L628.7 515.9 L630.6 513.5 L632.6 511.1 L634.6 508.6 L636.6 506.1 L638.7 503.6 L640.8 501.1 L643.0 498.6 L645.1 496.2 L647.2 493.8 L649.3 491.5 L651.4 489.3 L653.4 487.3 L655.4 485.3 L657.5 483.3 L659.6 481.3 L661.7 479.3 L663.8 477.3 L666.0 475.4 L668.2 473.4 L670.4 471.5 L672.6 469.5 L674.9 467.6 L677.2 465.7 L679.5 463.8 L681.8 462.0 L684.1 460.1 L686.4 458.3 L688.8 456.4 L691.1 454.6 L693.5 452.8 L695.9 451.0 L698.2 449.2 L700.6 447.5 L703.0 445.8 L705.4 444.0 L707.8 442.3 L710.2 440.7 L712.6 439.0 L715.1 437.3 L717.5 435.7 L720.0 434.0 L722.5 432.4 L725.0 430.8 L727.5 429.2 L730.0 427.7 L732.5 426.1 L735.0 424.6 L737.6 423.0 L740.1 421.5 L742.7 420.0 L745.3 418.6 L747.9 417.1 L750.5 415.6 L753.2 414.2 L755.8 412.8 L758.5 411.3 L761.2 409.9 L763.9 408.5 L766.6 407.2 L769.4 405.8 L772.1 404.4 L774.9 403.1 L777.6 401.8 L780.4 400.5 L783.2 399.2 L785.9 398.0 L788.7 396.7 L791.5 395.5 L794.2 394.3 L797.0 393.1 L799.7 392.0 L802.4 390.9 L805.2 389.8 L807.9 388.7 L810.6 387.6 L813.4 386.6 L816.1 385.6 L818.9 384.6 L821.6 383.7 L824.4 382.7 L827.2 381.8 L829.9 380.9 L832.7 380.0 L835.4 379.1 L838.2 378.2 L840.9 377.4 L843.6 376.5 L846.3 375.7 L849.0 374.9 L851.7 374.1 L854.3 373.3 L857.0 372.5 L859.6 371.7 L862.1 371.0 L864.6 370.3 L867.1 369.6 L869.6 368.9 L872.1 368.2 L874.5 367.6 L876.9 366.9 L879.3 366.3 L881.7 365.7 L884.2 365.1 L886.6 364.5 L889.0 363.9 L891.4 363.3 L893.9 362.8 L896.4 362.2 L898.9 361.6 L901.4 361.1 L903.9 360.5 L906.5 360.0 L909.1 359.4 L911.8 358.9 L914.5 358.4 L917.2 357.8 L919.9 357.3 L922.6 356.8 L925.4 356.3 L928.2 355.8 L931.0 355.3 L933.8 354.8 L936.6 354.4 L939.4 353.9 L942.2 353.4 L944.9 353.0 L947.7 352.5 L950.5 352.1 L953.2 351.7 L955.9 351.2 L958.6 350.8 L961.2 350.4 L963.8 350.0 L966.4 349.6 L968.9 349.2 L971.5 348.9 L974.0 348.5 L976.5 348.1 L979.0 347.8 L981.5 347.4 L983.9 347.1 L986.4 346.7 L988.8 346.4 L991.3 346.1 L993.7 345.8 L996.2 345.5 L998.6 345.2 L1001.0 344.9 L1003.5 344.6 L1005.9 344.3 L1008.4 344.1 L1010.9 343.8 L1013.3 343.5 L1015.8 343.3 L1018.4 343.1 L1020.9 342.8 L1023.5 342.6 L1026.0 342.4 L1028.6 342.2 L1031.1 342.0 L1033.7 341.8 L1036.2 341.6 L1038.8 341.4 L1041.3 341.3 L1043.8 341.1 L1046.3 340.9 L1048.7 340.8 L1051.2 340.6 L1053.5 340.5 L1055.9 340.4 L1058.2 340.3 L1060.4 340.1 L1062.7 340.0 L1064.9 339.9 L1067.1 339.9 L1069.3 339.8 L1071.5 339.7 L1073.7 339.7 L1075.8 339.6 L1078.0 339.6 L1080.1 339.6 L1082.2 339.5 L1084.2 339.5 L1086.2 339.5 L1088.1 339.5 L1090.0 339.5 L1091.9 339.5 L1093.7 339.4 L1095.4 339.4 L1097.0 339.4 L1098.6 339.4 L1100.1 339.4 L1101.5 339.4 L1102.9 339.4 L1104.1 339.4 L1105.4 339.4 L1106.5 339.4 L1107.6 339.4 L1108.6 339.4 L1109.6 339.4 L1110.6 339.4 L1111.4 339.4 L1112.3 339.4 L1113.1 339.4 L1113.8 339.4 L1114.5 339.4 L1115.2 339.5 L1115.8 339.5 L1116.4 339.5 L1117.0 339.5 L1117.5 339.5 L1118.0 339.5 L1118.0 322.5 L1117.6 322.5 L1117.1 322.5 L1116.6 322.5 L1116.0 322.5 L1115.4 322.5 L1114.7 322.5 L1114.0 322.5 L1113.2 322.5 L1112.4 322.5 L1111.6 322.5 L1110.6 322.5 L1109.7 322.5 L1108.6 322.5 L1107.6 322.5 L1106.4 322.5 L1105.2 322.5 L1104.0 322.5 L1102.7 322.6 L1101.3 322.6 L1099.9 322.6 L1098.4 322.6 L1096.8 322.7 L1095.2 322.7 L1093.5 322.7 L1091.7 322.8 L1089.8 322.8 L1087.9 322.8 L1085.9 322.9 L1083.9 322.9 L1081.8 323.0 L1079.7 323.0 L1077.6 323.1 L1075.4 323.1 L1073.2 323.2 L1071.0 323.3 L1068.7 323.4 L1066.4 323.5 L1064.1 323.6 L1061.8 323.7 L1059.6 323.9 L1057.3 324.0 L1054.9 324.2 L1052.5 324.3 L1050.1 324.5 L1047.7 324.7 L1045.2 324.8 L1042.7 325.0 L1040.1 325.2 L1037.6 325.4 L1035.0 325.6 L1032.4 325.9 L1029.8 326.1 L1027.2 326.3 L1024.6 326.6 L1022.0 326.8 L1019.4 327.1 L1016.8 327.4 L1014.2 327.6 L1011.7 327.9 L1009.1 328.2 L1006.6 328.5 L1004.1 328.8 L1001.6 329.1 L999.1 329.4 L996.6 329.8 L994.2 330.1 L991.7 330.4 L989.2 330.8 L986.7 331.2 L984.2 331.5 L981.7 331.9 L979.2 332.3 L976.7 332.7 L974.2 333.1 L971.7 333.5 L969.2 333.9 L966.6 334.3 L964.0 334.7 L961.4 335.1 L958.8 335.6 L956.2 336.0 L953.5 336.5 L950.8 336.9 L948.0 337.4 L945.3 337.9 L942.5 338.4 L939.7 338.9 L936.9 339.4 L934.0 339.9 L931.2 340.4 L928.4 340.9 L925.6 341.5 L922.7 342.0 L919.9 342.6 L917.1 343.1 L914.4 343.7 L911.6 344.3 L908.9 344.8 L906.1 345.4 L903.5 346.0 L900.8 346.6 L898.3 347.2 L895.7 347.8 L893.2 348.4 L890.6 349.0 L888.1 349.7 L885.7 350.3 L883.2 350.9 L880.7 351.5 L878.3 352.2 L875.8 352.9 L873.3 353.5 L870.9 354.2 L868.4 354.9 L865.9 355.6 L863.3 356.4 L860.8 357.1 L858.2 357.9 L855.6 358.7 L853.0 359.5 L850.4 360.3 L847.7 361.2 L845.0 362.0 L842.3 362.9 L839.6 363.8 L836.8 364.7 L834.1 365.6 L831.3 366.5 L828.5 367.4 L825.7 368.4 L822.9 369.4 L820.1 370.4 L817.3 371.4 L814.4 372.4 L811.6 373.5 L808.8 374.6 L806.0 375.7 L803.2 376.8 L800.4 378.0 L797.6 379.1 L794.8 380.3 L792.0 381.6 L789.2 382.8 L786.4 384.1 L783.6 385.4 L780.7 386.7 L777.9 388.0 L775.1 389.4 L772.3 390.7 L769.5 392.1 L766.7 393.5 L763.9 395.0 L761.1 396.4 L758.4 397.9 L755.6 399.3 L752.9 400.8 L750.1 402.3 L747.4 403.8 L744.8 405.4 L742.1 406.9 L739.5 408.5 L736.8 410.0 L734.2 411.6 L731.6 413.2 L729.0 414.8 L726.5 416.4 L723.9 418.1 L721.3 419.7 L718.8 421.4 L716.3 423.1 L713.8 424.8 L711.3 426.5 L708.8 428.2 L706.3 430.0 L703.9 431.7 L701.4 433.5 L699.0 435.3 L696.6 437.1 L694.2 438.9 L691.8 440.8 L689.4 442.6 L687.0 444.5 L684.7 446.4 L682.3 448.3 L679.9 450.2 L677.6 452.1 L675.3 454.1 L672.9 456.0 L670.6 458.0 L668.3 460.0 L666.1 462.0 L663.8 464.0 L661.6 466.1 L659.4 468.1 L657.2 470.2 L655.0 472.3 L652.9 474.4 L650.8 476.5 L648.7 478.6 L646.6 480.7 L644.5 482.9 L642.4 485.3 L640.3 487.7 L638.2 490.2 L636.1 492.8 L634.0 495.4 L631.9 498.0 L629.8 500.6 L627.8 503.2 L625.8 505.8 L623.9 508.3 L622.1 510.8 L620.3 513.1 L618.6 515.4 L617.1 517.5 L615.6 519.5 L614.3 521.3 L613.0 523.0 L612.0 524.4 L611.1 525.6Z" fill="#E8040C"/>
<circle cx="614" cy="528" r="3.5" fill="#E8040C"/>
<path d="M1077 308 L1121 331.5 L1082 357" fill="none" stroke="#E8040C" stroke-width="15" stroke-linecap="round" stroke-linejoin="round"/>

<!-- labels -->
<g transform="translate(1134.5 345.7) scale(0.4000)" fill="none" stroke="#8E4E1F" stroke-linejoin="miter"><path transform="translate(0.0 0)" d="M14 -100 V0 M86 -100 V0 M0 -94.5 H26 M74 -94.5 H100 M0 -5.5 H30" stroke-width="11.0"/><path transform="translate(0.0 0)" d="M8.5 -100 L25.55 -100 L91.5 0 L74.45 0 Z" fill="#8E4E1F" stroke="none"/><path transform="translate(109.2 0)" d="M10 -58 C14 -68 24 -72 34 -72 C48 -72 54 -64 54 -50 V-5.5 M54 -42 C30 -42 6 -38 6 -19 C6 -6 15 1 27 1 C40 1 48 -7 54 -15 M54 -5.5 H66" stroke-width="11.0"/><path transform="translate(184.4 0)" d="M12 -72 V0 M0 -66.5 H12 M0 -5.5 H25 M12 -54 C18 -67 28 -72 38 -72 C51 -72 56 -65 56 -52 V0 M45 -5.5 H68 M56 -54 C62 -67 72 -72 82 -72 C95 -72 100 -65 100 -52 V0 M89 -5.5 H112" stroke-width="11.0"/><path transform="translate(305.6 0)" d="M7 -37 H60 C60 -60 50 -72 34 -72 C16 -72 6 -58 6 -35 C6 -11 18 1 36 1 C48 1 56 -5 61 -14" stroke-width="11.0"/><path transform="translate(381.8 0)" d="M36 -100 V0 M36 -100 L12 -84 M12 -5.5 H60" stroke-width="11.0"/><circle cx="470.0" cy="-62" r="7.5" fill="#8E4E1F" stroke="none"/><circle cx="470.0" cy="-7.5" r="7.5" fill="#8E4E1F" stroke="none"/></g>
<g transform="translate(1134.5 552.5) scale(0.4000)" fill="none" stroke="#8E4E1F" stroke-linejoin="miter"><path transform="translate(0.0 0)" d="M14 -100 V0 M86 -100 V0 M0 -94.5 H26 M74 -94.5 H100 M0 -5.5 H30" stroke-width="11.0"/><path transform="translate(0.0 0)" d="M8.5 -100 L25.55 -100 L91.5 0 L74.45 0 Z" fill="#8E4E1F" stroke="none"/><path transform="translate(108.0 0)" d="M10 -58 C14 -68 24 -72 34 -72 C48 -72 54 -64 54 -50 V-5.5 M54 -42 C30 -42 6 -38 6 -19 C6 -6 15 1 27 1 C40 1 48 -7 54 -15 M54 -5.5 H66" stroke-width="11.0"/><path transform="translate(182.0 0)" d="M12 -72 V0 M0 -66.5 H12 M0 -5.5 H25 M12 -54 C18 -67 28 -72 38 -72 C51 -72 56 -65 56 -52 V0 M45 -5.5 H68 M56 -54 C62 -67 72 -72 82 -72 C95 -72 100 -65 100 -52 V0 M89 -5.5 H112" stroke-width="11.0"/><path transform="translate(302.0 0)" d="M7 -37 H60 C60 -60 50 -72 34 -72 C16 -72 6 -58 6 -35 C6 -11 18 1 36 1 C48 1 56 -5 61 -14" stroke-width="11.0"/><path transform="translate(377.0 0)" d="M10 -78 C13 -93 24 -100 37 -100 C53 -100 61 -90 61 -76 C61 -60 50 -50 12 -8 V-5.5 H63 V-18" stroke-width="11.0"/><circle cx="470.0" cy="-62" r="7.5" fill="#8E4E1F" stroke="none"/><circle cx="470.0" cy="-7.5" r="7.5" fill="#8E4E1F" stroke="none"/></g>
<g transform="translate(1134.5 759.5) scale(0.4000)" fill="none" stroke="#8E4E1F" stroke-linejoin="miter"><path transform="translate(0.0 0)" d="M14 -100 V0 M86 -100 V0 M0 -94.5 H26 M74 -94.5 H100 M0 -5.5 H30" stroke-width="11.0"/><path transform="translate(0.0 0)" d="M8.5 -100 L25.55 -100 L91.5 0 L74.45 0 Z" fill="#8E4E1F" stroke="none"/><path transform="translate(108.0 0)" d="M10 -58 C14 -68 24 -72 34 -72 C48 -72 54 -64 54 -50 V-5.5 M54 -42 C30 -42 6 -38 6 -19 C6 -6 15 1 27 1 C40 1 48 -7 54 -15 M54 -5.5 H66" stroke-width="11.0"/><path transform="translate(182.0 0)" d="M12 -72 V0 M0 -66.5 H12 M0 -5.5 H25 M12 -54 C18 -67 28 -72 38 -72 C51 -72 56 -65 56 -52 V0 M45 -5.5 H68 M56 -54 C62 -67 72 -72 82 -72 C95 -72 100 -65 100 -52 V0 M89 -5.5 H112" stroke-width="11.0"/><path transform="translate(302.0 0)" d="M7 -37 H60 C60 -60 50 -72 34 -72 C16 -72 6 -58 6 -35 C6 -11 18 1 36 1 C48 1 56 -5 61 -14" stroke-width="11.0"/><path transform="translate(377.0 0)" d="M10 -84 C16 -96 26 -100 37 -100 C51 -100 59 -92 59 -79 C59 -63 47 -55 30 -55 M30 -55 C51 -55 63 -45 63 -28 C63 -10 51 1 35 1 C22 1 12 -5 6 -16" stroke-width="11.0"/><circle cx="470.0" cy="-62" r="7.5" fill="#8E4E1F" stroke="none"/><circle cx="470.0" cy="-7.5" r="7.5" fill="#8E4E1F" stroke="none"/></g>
<g fill="#EEDCCD">
  <rect x="1133" y="364" width="352" height="101"/>
  <rect x="1133" y="572" width="352" height="100"/>
  <rect x="1133" y="779" width="352" height="101"/>
</g>
</svg>
</body></html>
